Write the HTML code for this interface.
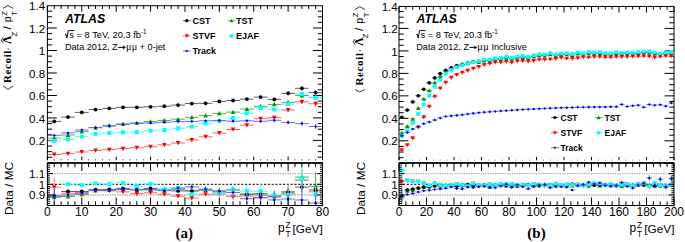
<!DOCTYPE html>
<html><head><meta charset="utf-8"><title>Recoil response</title>
<style>html,body{margin:0;padding:0;background:#fff;}body{width:685px;height:242px;overflow:hidden;font-family:"Liberation Sans",sans-serif;}svg{display:block;}</style>
</head><body>
<svg width="685" height="242" viewBox="0 0 685 242">
<rect width="685" height="242" fill="#fff"/>
<defs>
<clipPath id="cmL"><rect x="47.4" y="5.54" width="275.1" height="154.76"/></clipPath>
<clipPath id="crL"><rect x="47.4" y="163" width="275.1" height="42.5"/></clipPath>
<clipPath id="cmR"><rect x="399" y="5.54" width="275" height="154.76"/></clipPath>
<clipPath id="crR"><rect x="399" y="163" width="275" height="42.5"/></clipPath>
</defs>
<g stroke="#000" stroke-width="1" fill="none">
<path d="M47.4 5.74H322.5V160.3"/>
<path d="M47.4 5.74V160.3"/>
<path d="M47.4 162.9H56.9M47.4 157.28H52.1M47.4 151.66H52.1M47.4 146.04H52.1M47.4 140.42H56.9M47.4 134.8H52.1M47.4 129.18H52.1M47.4 123.56H52.1M47.4 117.94H56.9M47.4 112.32H52.1M47.4 106.7H52.1M47.4 101.08H52.1M47.4 95.46H56.9M47.4 89.84H52.1M47.4 84.22H52.1M47.4 78.6H52.1M47.4 72.98H56.9M47.4 67.36H52.1M47.4 61.74H52.1M47.4 56.12H52.1M47.4 50.5H56.9M47.4 44.88H52.1M47.4 39.26H52.1M47.4 33.64H52.1M47.4 28.02H56.9M47.4 22.4H52.1M47.4 16.78H52.1M47.4 11.16H52.1"/>
<path d="M322.5 162.9H313M322.5 157.28H317.8M322.5 151.66H317.8M322.5 146.04H317.8M322.5 140.42H313M322.5 134.8H317.8M322.5 129.18H317.8M322.5 123.56H317.8M322.5 117.94H313M322.5 112.32H317.8M322.5 106.7H317.8M322.5 101.08H317.8M322.5 95.46H313M322.5 89.84H317.8M322.5 84.22H317.8M322.5 78.6H317.8M322.5 72.98H313M322.5 67.36H317.8M322.5 61.74H317.8M322.5 56.12H317.8M322.5 50.5H313M322.5 44.88H317.8M322.5 39.26H317.8M322.5 33.64H317.8M322.5 28.02H313M322.5 22.4H317.8M322.5 16.78H317.8M322.5 11.16H317.8"/>
<path d="M47.4 5.74V11.74M54.28 5.74V8.94M61.16 5.74V8.94M68.03 5.74V8.94M74.91 5.74V8.94M81.79 5.74V11.74M88.66 5.74V8.94M95.54 5.74V8.94M102.42 5.74V8.94M109.3 5.74V8.94M116.18 5.74V11.74M123.05 5.74V8.94M129.93 5.74V8.94M136.81 5.74V8.94M143.69 5.74V8.94M150.56 5.74V11.74M157.44 5.74V8.94M164.32 5.74V8.94M171.19 5.74V8.94M178.07 5.74V8.94M184.95 5.74V11.74M191.83 5.74V8.94M198.71 5.74V8.94M205.58 5.74V8.94M212.46 5.74V8.94M219.34 5.74V11.74M226.22 5.74V8.94M233.09 5.74V8.94M239.97 5.74V8.94M246.85 5.74V8.94M253.73 5.74V11.74M260.6 5.74V8.94M267.48 5.74V8.94M274.36 5.74V8.94M281.24 5.74V8.94M288.11 5.74V11.74M294.99 5.74V8.94M301.87 5.74V8.94M308.75 5.74V8.94M315.62 5.74V8.94M322.5 5.74V11.74"/>
<path d="M47.4 162.9V156.6M54.28 162.9V159.4M61.16 162.9V159.4M68.03 162.9V159.4M74.91 162.9V159.4M81.79 162.9V156.6M88.66 162.9V159.4M95.54 162.9V159.4M102.42 162.9V159.4M109.3 162.9V159.4M116.18 162.9V156.6M123.05 162.9V159.4M129.93 162.9V159.4M136.81 162.9V159.4M143.69 162.9V159.4M150.56 162.9V156.6M157.44 162.9V159.4M164.32 162.9V159.4M171.19 162.9V159.4M178.07 162.9V159.4M184.95 162.9V156.6M191.83 162.9V159.4M198.71 162.9V159.4M205.58 162.9V159.4M212.46 162.9V159.4M219.34 162.9V156.6M226.22 162.9V159.4M233.09 162.9V159.4M239.97 162.9V159.4M246.85 162.9V159.4M253.73 162.9V156.6M260.6 162.9V159.4M267.48 162.9V159.4M274.36 162.9V159.4M281.24 162.9V159.4M288.11 162.9V156.6M294.99 162.9V159.4M301.87 162.9V159.4M308.75 162.9V159.4M315.62 162.9V159.4M322.5 162.9V156.6"/>
</g>
<g clip-path="url(#cmL)"><path d="M47.4 138.1H61.15M54.28 137.7V138.5M61.16 135H74.91M68.03 134.6V135.4M74.91 131.6H88.66M81.79 131.2V132M88.67 127.7H102.42M95.54 127.29V128.11M102.42 125.4H116.17M109.3 124.98V125.82M116.18 123.8H129.93M123.05 123.36V124.24M129.93 122.9H143.69M136.81 122.43V123.37M143.69 121.6H157.44M150.56 121.09V122.11M157.44 120.4H171.19M164.32 119.84V120.96M171.2 119.2H184.95M178.07 118.57V119.83M184.95 117.3H198.71M191.83 116.58V118.02M198.71 115.6H212.46M205.58 114.77V116.43M212.46 113.4H226.22M219.34 112.45V114.35M226.22 112.1H239.97M233.09 111V113.2M239.97 109H253.73M246.85 107.72V110.28M253.73 106.4H267.48M260.6 104.92V107.88M267.48 104.4H281.24M274.36 102.69V106.11M281.24 102.4H294.99M288.11 100.42V104.38M294.99 95.5H308.75M301.87 93.23V97.77M308.75 97.3H322.5M315.62 94.7V99.9" stroke="#4db84d" stroke-width="1" fill="none"/><path d="M54.28 135.8L56.58 140.06L51.98 140.06Z" fill="#009a00"/><path d="M68.03 132.7L70.33 136.96L65.73 136.96Z" fill="#009a00"/><path d="M81.79 129.3L84.09 133.56L79.49 133.56Z" fill="#009a00"/><path d="M95.54 125.4L97.84 129.66L93.24 129.66Z" fill="#009a00"/><path d="M109.3 123.1L111.6 127.36L107 127.36Z" fill="#009a00"/><path d="M123.05 121.5L125.35 125.75L120.75 125.75Z" fill="#009a00"/><path d="M136.81 120.6L139.11 124.86L134.51 124.86Z" fill="#009a00"/><path d="M150.56 119.3L152.86 123.55L148.26 123.55Z" fill="#009a00"/><path d="M164.32 118.1L166.62 122.36L162.02 122.36Z" fill="#009a00"/><path d="M178.07 116.9L180.37 121.16L175.77 121.16Z" fill="#009a00"/><path d="M191.83 115L194.13 119.25L189.53 119.25Z" fill="#009a00"/><path d="M205.58 113.3L207.88 117.55L203.28 117.55Z" fill="#009a00"/><path d="M219.34 111.1L221.64 115.36L217.04 115.36Z" fill="#009a00"/><path d="M233.09 109.8L235.39 114.05L230.79 114.05Z" fill="#009a00"/><path d="M246.85 106.7L249.15 110.95L244.55 110.95Z" fill="#009a00"/><path d="M260.6 104.1L262.9 108.36L258.3 108.36Z" fill="#009a00"/><path d="M274.36 102.1L276.66 106.36L272.06 106.36Z" fill="#009a00"/><path d="M288.11 100.1L290.41 104.36L285.81 104.36Z" fill="#009a00"/><path d="M301.87 93.2L304.17 97.45L299.57 97.45Z" fill="#009a00"/><path d="M315.62 95L317.92 99.25L313.32 99.25Z" fill="#009a00"/></g>
<g clip-path="url(#cmL)"><path d="M47.4 154.5H61.15M54.28 154.1V154.9M61.16 153.6H74.91M68.03 153.2V154M74.91 152H88.66M81.79 151.6V152.4M88.67 150.5H102.42M95.54 150.09V150.91M102.42 149.6H116.17M109.3 149.18V150.02M116.18 148.6H129.93M123.05 148.16V149.04M129.93 147.7H143.69M136.81 147.23V148.17M143.69 146.7H157.44M150.56 146.19V147.21M157.44 144.9H171.19M164.32 144.34V145.46M171.2 143H184.95M178.07 142.37V143.63M184.95 139.9H198.71M191.83 139.18V140.62M198.71 136.8H212.46M205.58 135.97V137.63M212.46 133H226.22M219.34 132.05V133.95M226.22 129.5H239.97M233.09 128.4V130.6M239.97 125.1H253.73M246.85 123.82V126.38M253.73 118.6H267.48M260.6 117.12V120.08M267.48 117.6H281.24M274.36 115.89V119.31M281.24 110H294.99M288.11 108.02V111.98M294.99 101.9H308.75M301.87 99.63V104.17M308.75 103.7H322.5M315.62 101.1V106.3" stroke="#ff6464" stroke-width="1" fill="none"/><path d="M54.28 156.8L56.58 152.54L51.98 152.54Z" fill="#ff0000"/><path d="M68.03 155.9L70.33 151.64L65.73 151.64Z" fill="#ff0000"/><path d="M81.79 154.3L84.09 150.04L79.49 150.04Z" fill="#ff0000"/><path d="M95.54 152.8L97.84 148.54L93.24 148.54Z" fill="#ff0000"/><path d="M109.3 151.9L111.6 147.64L107 147.64Z" fill="#ff0000"/><path d="M123.05 150.9L125.35 146.64L120.75 146.64Z" fill="#ff0000"/><path d="M136.81 150L139.11 145.74L134.51 145.74Z" fill="#ff0000"/><path d="M150.56 149L152.86 144.74L148.26 144.74Z" fill="#ff0000"/><path d="M164.32 147.2L166.62 142.94L162.02 142.94Z" fill="#ff0000"/><path d="M178.07 145.3L180.37 141.04L175.77 141.04Z" fill="#ff0000"/><path d="M191.83 142.2L194.13 137.94L189.53 137.94Z" fill="#ff0000"/><path d="M205.58 139.1L207.88 134.84L203.28 134.84Z" fill="#ff0000"/><path d="M219.34 135.3L221.64 131.04L217.04 131.04Z" fill="#ff0000"/><path d="M233.09 131.8L235.39 127.55L230.79 127.55Z" fill="#ff0000"/><path d="M246.85 127.4L249.15 123.14L244.55 123.14Z" fill="#ff0000"/><path d="M260.6 120.9L262.9 116.64L258.3 116.64Z" fill="#ff0000"/><path d="M274.36 119.9L276.66 115.64L272.06 115.64Z" fill="#ff0000"/><path d="M288.11 112.3L290.41 108.05L285.81 108.05Z" fill="#ff0000"/><path d="M301.87 104.2L304.17 99.95L299.57 99.95Z" fill="#ff0000"/><path d="M315.62 106L317.92 101.75L313.32 101.75Z" fill="#ff0000"/></g>
<g clip-path="url(#cmL)"><path d="M47.4 121.4H61.15M54.28 121V121.8M61.16 117.1H74.91M68.03 116.7V117.5M74.91 112.4H88.66M81.79 112V112.8M88.67 109.6H102.42M95.54 109.19V110.01M102.42 108.4H116.17M109.3 107.98V108.82M116.18 107.4H129.93M123.05 106.96V107.84M129.93 107.3H143.69M136.81 106.83V107.77M143.69 106.8H157.44M150.56 106.29V107.31M157.44 106.2H171.19M164.32 105.64V106.76M171.2 105.1H184.95M178.07 104.47V105.73M184.95 103.6H198.71M191.83 102.88V104.32M198.71 103.3H212.46M205.58 102.47V104.13M212.46 101.4H226.22M219.34 100.45V102.35M226.22 100.5H239.97M233.09 99.4V101.6M239.97 99.1H253.73M246.85 97.82V100.38M253.73 97.1H267.48M260.6 95.62V98.58M267.48 99.4H281.24M274.36 97.69V101.11M281.24 93.3H294.99M288.11 91.32V95.28M294.99 88.3H308.75M301.87 86.03V90.57M308.75 92.6H322.5M315.62 90V95.2" stroke="#606060" stroke-width="1" fill="none"/><circle cx="54.28" cy="121.4" r="1.9" fill="#000000"/><circle cx="68.03" cy="117.1" r="1.9" fill="#000000"/><circle cx="81.79" cy="112.4" r="1.9" fill="#000000"/><circle cx="95.54" cy="109.6" r="1.9" fill="#000000"/><circle cx="109.3" cy="108.4" r="1.9" fill="#000000"/><circle cx="123.05" cy="107.4" r="1.9" fill="#000000"/><circle cx="136.81" cy="107.3" r="1.9" fill="#000000"/><circle cx="150.56" cy="106.8" r="1.9" fill="#000000"/><circle cx="164.32" cy="106.2" r="1.9" fill="#000000"/><circle cx="178.07" cy="105.1" r="1.9" fill="#000000"/><circle cx="191.83" cy="103.6" r="1.9" fill="#000000"/><circle cx="205.58" cy="103.3" r="1.9" fill="#000000"/><circle cx="219.34" cy="101.4" r="1.9" fill="#000000"/><circle cx="233.09" cy="100.5" r="1.9" fill="#000000"/><circle cx="246.85" cy="99.1" r="1.9" fill="#000000"/><circle cx="260.6" cy="97.1" r="1.9" fill="#000000"/><circle cx="274.36" cy="99.4" r="1.9" fill="#000000"/><circle cx="288.11" cy="93.3" r="1.9" fill="#000000"/><circle cx="301.87" cy="88.3" r="1.9" fill="#000000"/><circle cx="315.62" cy="92.6" r="1.9" fill="#000000"/></g>
<g clip-path="url(#cmL)"><path d="M47.4 141H61.15M54.28 140.6V141.4M61.16 139.5H74.91M68.03 139.1V139.9M74.91 136.6H88.66M81.79 136.2V137M88.67 133.9H102.42M95.54 133.49V134.31M102.42 133.1H116.17M109.3 132.68V133.52M116.18 132.3H129.93M123.05 131.86V132.74M129.93 132.1H143.69M136.81 131.63V132.57M143.69 130.8H157.44M150.56 130.29V131.31M157.44 130H171.19M164.32 129.44V130.56M171.2 128.4H184.95M178.07 127.77V129.03M184.95 126.6H198.71M191.83 125.88V127.32M198.71 123.5H212.46M205.58 122.67V124.33M212.46 121H226.22M219.34 120.05V121.95M226.22 118H239.97M233.09 116.9V119.1M239.97 113.3H253.73M246.85 112.02V114.58M253.73 107.9H267.48M260.6 106.42V109.38M267.48 109.6H281.24M274.36 107.89V111.31M281.24 104.1H294.99M288.11 102.12V106.08M294.99 94H308.75M301.87 91.73V96.27M308.75 97.9H322.5M315.62 95.3V100.5" stroke="#50ffff" stroke-width="1" fill="none"/><rect x="52.28" y="139" width="4" height="4" fill="#00ffff"/><rect x="66.03" y="137.5" width="4" height="4" fill="#00ffff"/><rect x="79.79" y="134.6" width="4" height="4" fill="#00ffff"/><rect x="93.54" y="131.9" width="4" height="4" fill="#00ffff"/><rect x="107.3" y="131.1" width="4" height="4" fill="#00ffff"/><rect x="121.05" y="130.3" width="4" height="4" fill="#00ffff"/><rect x="134.81" y="130.1" width="4" height="4" fill="#00ffff"/><rect x="148.56" y="128.8" width="4" height="4" fill="#00ffff"/><rect x="162.32" y="128" width="4" height="4" fill="#00ffff"/><rect x="176.07" y="126.4" width="4" height="4" fill="#00ffff"/><rect x="189.83" y="124.6" width="4" height="4" fill="#00ffff"/><rect x="203.58" y="121.5" width="4" height="4" fill="#00ffff"/><rect x="217.34" y="119" width="4" height="4" fill="#00ffff"/><rect x="231.09" y="116" width="4" height="4" fill="#00ffff"/><rect x="244.85" y="111.3" width="4" height="4" fill="#00ffff"/><rect x="258.6" y="105.9" width="4" height="4" fill="#00ffff"/><rect x="272.36" y="107.6" width="4" height="4" fill="#00ffff"/><rect x="286.11" y="102.1" width="4" height="4" fill="#00ffff"/><rect x="299.87" y="92" width="4" height="4" fill="#00ffff"/><rect x="313.62" y="95.9" width="4" height="4" fill="#00ffff"/></g>
<g clip-path="url(#cmL)"><path d="M47.4 135.4H61.15M54.28 135V135.8M61.16 132.9H74.91M68.03 132.5V133.3M74.91 130H88.66M81.79 129.6V130.4M88.67 127.6H102.42M95.54 127.19V128.01M102.42 126.1H116.17M109.3 125.68V126.52M116.18 124.5H129.93M123.05 124.06V124.94M129.93 123.5H143.69M136.81 123.03V123.97M143.69 122.9H157.44M150.56 122.39V123.41M157.44 122.3H171.19M164.32 121.74V122.86M171.2 121.6H184.95M178.07 120.97V122.23M184.95 121.4H198.71M191.83 120.68V122.12M198.71 120.8H212.46M205.58 119.97V121.63M212.46 120.5H226.22M219.34 119.55V121.45M226.22 121.2H239.97M233.09 120.1V122.3M239.97 120.8H253.73M246.85 119.52V122.08M253.73 121.3H267.48M260.6 119.82V122.78M267.48 120.3H281.24M274.36 118.59V122.01M281.24 122.4H294.99M288.11 120.42V124.38M294.99 123.6H308.75M301.87 121.33V125.87M308.75 126.5H322.5M315.62 123.9V129.1" stroke="#6c6cff" stroke-width="1" fill="none"/><path d="M54.28 133.8L55.88 135.4L54.28 137L52.68 135.4Z" fill="#0000ff"/><path d="M68.03 131.3L69.63 132.9L68.03 134.5L66.43 132.9Z" fill="#0000ff"/><path d="M81.79 128.4L83.39 130L81.79 131.6L80.19 130Z" fill="#0000ff"/><path d="M95.54 126L97.14 127.6L95.54 129.2L93.94 127.6Z" fill="#0000ff"/><path d="M109.3 124.5L110.9 126.1L109.3 127.7L107.7 126.1Z" fill="#0000ff"/><path d="M123.05 122.9L124.65 124.5L123.05 126.1L121.45 124.5Z" fill="#0000ff"/><path d="M136.81 121.9L138.41 123.5L136.81 125.1L135.21 123.5Z" fill="#0000ff"/><path d="M150.56 121.3L152.16 122.9L150.56 124.5L148.96 122.9Z" fill="#0000ff"/><path d="M164.32 120.7L165.92 122.3L164.32 123.9L162.72 122.3Z" fill="#0000ff"/><path d="M178.07 120L179.67 121.6L178.07 123.2L176.47 121.6Z" fill="#0000ff"/><path d="M191.83 119.8L193.43 121.4L191.83 123L190.23 121.4Z" fill="#0000ff"/><path d="M205.58 119.2L207.18 120.8L205.58 122.4L203.98 120.8Z" fill="#0000ff"/><path d="M219.34 118.9L220.94 120.5L219.34 122.1L217.74 120.5Z" fill="#0000ff"/><path d="M233.09 119.6L234.69 121.2L233.09 122.8L231.49 121.2Z" fill="#0000ff"/><path d="M246.85 119.2L248.45 120.8L246.85 122.4L245.25 120.8Z" fill="#0000ff"/><path d="M260.6 119.7L262.2 121.3L260.6 122.9L259 121.3Z" fill="#0000ff"/><path d="M274.36 118.7L275.96 120.3L274.36 121.9L272.76 120.3Z" fill="#0000ff"/><path d="M288.11 120.8L289.71 122.4L288.11 124L286.51 122.4Z" fill="#0000ff"/><path d="M301.87 122L303.47 123.6L301.87 125.2L300.27 123.6Z" fill="#0000ff"/><path d="M315.62 124.9L317.22 126.5L315.62 128.1L314.02 126.5Z" fill="#0000ff"/></g>
<rect x="44.4" y="160.3" width="281.1" height="2.7" fill="#fff"/>
<path d="M47.4 173.65H322.5" stroke="#aaa" stroke-width="1.4" stroke-dasharray="1.3 1.1"/>
<path d="M47.4 194.95H322.5" stroke="#aaa" stroke-width="1.4" stroke-dasharray="1.3 1.1"/>
<path d="M47.4 184.3H322.5" stroke="#000" stroke-width="1" stroke-dasharray="2.2 1.6"/>
<g clip-path="url(#crL)"><path d="M47.4 197.3H61.15M54.28 188.3V206.3M61.16 196.5H74.91M68.03 194.5V198.5M74.91 194.4H88.66M81.79 192.9V195.9M88.67 190.5H102.42M95.54 189.5V191.5M102.42 190H116.17M109.3 189V191M116.18 189.5H129.93M123.05 188.5V190.5M129.93 190H143.69M136.81 189V191M143.69 190H157.44M150.56 189V191M157.44 190.5H171.19M164.32 189V192M171.2 189.4H184.95M178.07 187.9V190.9M184.95 190.6H198.71M191.83 188.6V192.6M198.71 190H212.46M205.58 188V192M212.46 191H226.22M219.34 188.5V193.5M226.22 189.4H239.97M233.09 186.4V192.4M239.97 194.3H253.73M246.85 191.3V197.3M253.73 195H267.48M260.6 191.5V198.5M267.48 196.2H281.24M274.36 190.2V202.2M281.24 194H294.99M288.11 188V200M294.99 177H308.75M301.87 169V185M308.75 186.3H322.5M315.62 172.3V200.3" stroke="#4db84d" stroke-width="1" fill="none"/><path d="M54.28 195L56.58 199.26L51.98 199.26Z" fill="#009a00"/><path d="M68.03 194.2L70.33 198.46L65.73 198.46Z" fill="#009a00"/><path d="M81.79 192.1L84.09 196.36L79.49 196.36Z" fill="#009a00"/><path d="M95.54 188.2L97.84 192.46L93.24 192.46Z" fill="#009a00"/><path d="M109.3 187.7L111.6 191.96L107 191.96Z" fill="#009a00"/><path d="M123.05 187.2L125.35 191.46L120.75 191.46Z" fill="#009a00"/><path d="M136.81 187.7L139.11 191.96L134.51 191.96Z" fill="#009a00"/><path d="M150.56 187.7L152.86 191.96L148.26 191.96Z" fill="#009a00"/><path d="M164.32 188.2L166.62 192.46L162.02 192.46Z" fill="#009a00"/><path d="M178.07 187.1L180.37 191.36L175.77 191.36Z" fill="#009a00"/><path d="M191.83 188.3L194.13 192.56L189.53 192.56Z" fill="#009a00"/><path d="M205.58 187.7L207.88 191.96L203.28 191.96Z" fill="#009a00"/><path d="M219.34 188.7L221.64 192.96L217.04 192.96Z" fill="#009a00"/><path d="M233.09 187.1L235.39 191.36L230.79 191.36Z" fill="#009a00"/><path d="M246.85 192L249.15 196.26L244.55 196.26Z" fill="#009a00"/><path d="M260.6 192.7L262.9 196.96L258.3 196.96Z" fill="#009a00"/><path d="M274.36 193.9L276.66 198.16L272.06 198.16Z" fill="#009a00"/><path d="M288.11 191.7L290.41 195.96L285.81 195.96Z" fill="#009a00"/><path d="M301.87 174.7L304.17 178.96L299.57 178.96Z" fill="#009a00"/><path d="M315.62 184L317.92 188.26L313.32 188.26Z" fill="#009a00"/></g>
<g clip-path="url(#crL)"><path d="M47.4 187.2H61.15M54.28 178.2V196.2M61.16 193.2H74.91M68.03 191.2V195.2M74.91 193.4H88.66M81.79 191.9V194.9M88.67 190.6H102.42M95.54 189.6V191.6M102.42 190.8H116.17M109.3 189.8V191.8M116.18 191.9H129.93M123.05 190.9V192.9M129.93 193.7H143.69M136.81 192.7V194.7M143.69 192.8H157.44M150.56 191.8V193.8M157.44 194.3H171.19M164.32 192.8V195.8M171.2 196.2H184.95M178.07 194.7V197.7M184.95 198H198.71M191.83 196V200M198.71 194.3H212.46M205.58 192.3V196.3M212.46 194H226.22M219.34 191.5V196.5M226.22 196.6H239.97M233.09 193.6V199.6M239.97 196H253.73M246.85 192.5V199.5M253.73 198H267.48M260.6 194V202M267.48 197H281.24M274.36 193V201M281.24 193H294.99M288.11 184V202M294.99 180.4H308.75M301.87 174.4V186.4M308.75 191.9H322.5M315.62 183.9V199.9" stroke="#ff6464" stroke-width="1" fill="none"/><path d="M54.28 189.5L56.58 185.24L51.98 185.24Z" fill="#ff0000"/><path d="M68.03 195.5L70.33 191.24L65.73 191.24Z" fill="#ff0000"/><path d="M81.79 195.7L84.09 191.44L79.49 191.44Z" fill="#ff0000"/><path d="M95.54 192.9L97.84 188.64L93.24 188.64Z" fill="#ff0000"/><path d="M109.3 193.1L111.6 188.84L107 188.84Z" fill="#ff0000"/><path d="M123.05 194.2L125.35 189.94L120.75 189.94Z" fill="#ff0000"/><path d="M136.81 196L139.11 191.74L134.51 191.74Z" fill="#ff0000"/><path d="M150.56 195.1L152.86 190.84L148.26 190.84Z" fill="#ff0000"/><path d="M164.32 196.6L166.62 192.34L162.02 192.34Z" fill="#ff0000"/><path d="M178.07 198.5L180.37 194.24L175.77 194.24Z" fill="#ff0000"/><path d="M191.83 200.3L194.13 196.04L189.53 196.04Z" fill="#ff0000"/><path d="M205.58 196.6L207.88 192.34L203.28 192.34Z" fill="#ff0000"/><path d="M219.34 196.3L221.64 192.04L217.04 192.04Z" fill="#ff0000"/><path d="M233.09 198.9L235.39 194.64L230.79 194.64Z" fill="#ff0000"/><path d="M246.85 198.3L249.15 194.04L244.55 194.04Z" fill="#ff0000"/><path d="M260.6 200.3L262.9 196.04L258.3 196.04Z" fill="#ff0000"/><path d="M274.36 199.3L276.66 195.04L272.06 195.04Z" fill="#ff0000"/><path d="M288.11 195.3L290.41 191.04L285.81 191.04Z" fill="#ff0000"/><path d="M301.87 182.7L304.17 178.44L299.57 178.44Z" fill="#ff0000"/><path d="M315.62 194.2L317.92 189.94L313.32 189.94Z" fill="#ff0000"/></g>
<g clip-path="url(#crL)"><path d="M47.4 196H61.15M54.28 193V199M61.16 191.5H74.91M68.03 190.5V192.5M74.91 191.5H88.66M81.79 190.5V192.5M88.67 189.6H102.42M95.54 188.6V190.6M102.42 189.4H116.17M109.3 188.4V190.4M116.18 188.4H129.93M123.05 187.4V189.4M129.93 189.5H143.69M136.81 188.5V190.5M143.69 188.4H157.44M150.56 187.4V189.4M157.44 190H171.19M164.32 189V191M171.2 190.9H184.95M178.07 189.4V192.4M184.95 191H198.71M191.83 189.5V192.5M198.71 190H212.46M205.58 188.5V191.5M212.46 192H226.22M219.34 190V194M226.22 190H239.97M233.09 188V192M239.97 194.2H253.73M246.85 191.7V196.7M253.73 193.7H267.48M260.6 190.7V196.7M267.48 196H281.24M274.36 192.5V199.5M281.24 191.9H294.99M288.11 187.9V195.9M294.99 187.1H308.75M301.87 182.1V192.1M308.75 190H322.5M315.62 184V196" stroke="#606060" stroke-width="1" fill="none"/><circle cx="54.28" cy="196" r="1.9" fill="#000000"/><circle cx="68.03" cy="191.5" r="1.9" fill="#000000"/><circle cx="81.79" cy="191.5" r="1.9" fill="#000000"/><circle cx="95.54" cy="189.6" r="1.9" fill="#000000"/><circle cx="109.3" cy="189.4" r="1.9" fill="#000000"/><circle cx="123.05" cy="188.4" r="1.9" fill="#000000"/><circle cx="136.81" cy="189.5" r="1.9" fill="#000000"/><circle cx="150.56" cy="188.4" r="1.9" fill="#000000"/><circle cx="164.32" cy="190" r="1.9" fill="#000000"/><circle cx="178.07" cy="190.9" r="1.9" fill="#000000"/><circle cx="191.83" cy="191" r="1.9" fill="#000000"/><circle cx="205.58" cy="190" r="1.9" fill="#000000"/><circle cx="219.34" cy="192" r="1.9" fill="#000000"/><circle cx="233.09" cy="190" r="1.9" fill="#000000"/><circle cx="246.85" cy="194.2" r="1.9" fill="#000000"/><circle cx="260.6" cy="193.7" r="1.9" fill="#000000"/><circle cx="274.36" cy="196" r="1.9" fill="#000000"/><circle cx="288.11" cy="191.9" r="1.9" fill="#000000"/><circle cx="301.87" cy="187.1" r="1.9" fill="#000000"/><circle cx="315.62" cy="190" r="1.9" fill="#000000"/></g>
<g clip-path="url(#crL)"><path d="M47.4 160H61.15M61.16 184.1H74.91M68.03 183.1V185.1M74.91 185.2H88.66M81.79 184.2V186.2M88.67 183.3H102.42M95.54 182.3V184.3M102.42 184.1H116.17M109.3 183.1V185.1M116.18 182.8H129.93M123.05 181.8V183.8M129.93 185.9H143.69M136.81 184.9V186.9M143.69 184H157.44M150.56 183V185M157.44 188.7H171.19M164.32 187.7V189.7M171.2 188H184.95M178.07 186.5V189.5M184.95 194.3H198.71M191.83 192.3V196.3M198.71 189H212.46M205.58 187V191M212.46 193.1H226.22M219.34 190.6V195.6M226.22 190H239.97M233.09 184V196M239.97 191.2H253.73M246.85 185.2V197.2M253.73 191.2H267.48M260.6 184.2V198.2M267.48 195H281.24M274.36 190V200M281.24 195H294.99M288.11 189V201M294.99 179.2H308.75M301.87 163.2V195.2M308.75 194.7H322.5M315.62 186.7V202.7" stroke="#50ffff" stroke-width="1" fill="none"/><rect x="52.28" y="158" width="4" height="4" fill="#00ffff"/><rect x="66.03" y="182.1" width="4" height="4" fill="#00ffff"/><rect x="79.79" y="183.2" width="4" height="4" fill="#00ffff"/><rect x="93.54" y="181.3" width="4" height="4" fill="#00ffff"/><rect x="107.3" y="182.1" width="4" height="4" fill="#00ffff"/><rect x="121.05" y="180.8" width="4" height="4" fill="#00ffff"/><rect x="134.81" y="183.9" width="4" height="4" fill="#00ffff"/><rect x="148.56" y="182" width="4" height="4" fill="#00ffff"/><rect x="162.32" y="186.7" width="4" height="4" fill="#00ffff"/><rect x="176.07" y="186" width="4" height="4" fill="#00ffff"/><rect x="189.83" y="192.3" width="4" height="4" fill="#00ffff"/><rect x="203.58" y="187" width="4" height="4" fill="#00ffff"/><rect x="217.34" y="191.1" width="4" height="4" fill="#00ffff"/><rect x="231.09" y="188" width="4" height="4" fill="#00ffff"/><rect x="244.85" y="189.2" width="4" height="4" fill="#00ffff"/><rect x="258.6" y="189.2" width="4" height="4" fill="#00ffff"/><rect x="272.36" y="193" width="4" height="4" fill="#00ffff"/><rect x="286.11" y="193" width="4" height="4" fill="#00ffff"/><rect x="299.87" y="177.2" width="4" height="4" fill="#00ffff"/><rect x="313.62" y="192.7" width="4" height="4" fill="#00ffff"/></g>
<g clip-path="url(#crL)"><path d="M47.4 195.9H61.15M54.28 186.9V204.9M61.16 195H74.91M68.03 193V197M74.91 192.7H88.66M81.79 191.2V194.2M88.67 190.6H102.42M95.54 189.6V191.6M102.42 190.3H116.17M109.3 189.3V191.3M116.18 189.6H129.93M123.05 188.6V190.6M129.93 189.4H143.69M136.81 188.4V190.4M143.69 189.6H157.44M150.56 188.6V190.6M157.44 190.6H171.19M164.32 189.1V192.1M171.2 188.1H184.95M178.07 186.6V189.6M184.95 186.9H198.71M191.83 183.9V189.9M198.71 189.3H212.46M205.58 186.3V192.3M212.46 191.2H226.22M219.34 187.2V195.2M226.22 192.5H239.97M233.09 187.5V197.5M239.97 198.7H253.73M246.85 193.7V203.7M253.73 197.4H267.48M260.6 191.4V203.4M267.48 199.9H281.24M274.36 190.9V208.9M281.24 199H294.99M288.11 191V207M294.99 200H308.75M301.87 188V212M308.75 203H322.5M315.62 193V213" stroke="#6c6cff" stroke-width="1" fill="none"/><path d="M54.28 194.3L55.88 195.9L54.28 197.5L52.68 195.9Z" fill="#0000ff"/><path d="M68.03 193.4L69.63 195L68.03 196.6L66.43 195Z" fill="#0000ff"/><path d="M81.79 191.1L83.39 192.7L81.79 194.3L80.19 192.7Z" fill="#0000ff"/><path d="M95.54 189L97.14 190.6L95.54 192.2L93.94 190.6Z" fill="#0000ff"/><path d="M109.3 188.7L110.9 190.3L109.3 191.9L107.7 190.3Z" fill="#0000ff"/><path d="M123.05 188L124.65 189.6L123.05 191.2L121.45 189.6Z" fill="#0000ff"/><path d="M136.81 187.8L138.41 189.4L136.81 191L135.21 189.4Z" fill="#0000ff"/><path d="M150.56 188L152.16 189.6L150.56 191.2L148.96 189.6Z" fill="#0000ff"/><path d="M164.32 189L165.92 190.6L164.32 192.2L162.72 190.6Z" fill="#0000ff"/><path d="M178.07 186.5L179.67 188.1L178.07 189.7L176.47 188.1Z" fill="#0000ff"/><path d="M191.83 185.3L193.43 186.9L191.83 188.5L190.23 186.9Z" fill="#0000ff"/><path d="M205.58 187.7L207.18 189.3L205.58 190.9L203.98 189.3Z" fill="#0000ff"/><path d="M219.34 189.6L220.94 191.2L219.34 192.8L217.74 191.2Z" fill="#0000ff"/><path d="M233.09 190.9L234.69 192.5L233.09 194.1L231.49 192.5Z" fill="#0000ff"/><path d="M246.85 197.1L248.45 198.7L246.85 200.3L245.25 198.7Z" fill="#0000ff"/><path d="M260.6 195.8L262.2 197.4L260.6 199L259 197.4Z" fill="#0000ff"/><path d="M274.36 198.3L275.96 199.9L274.36 201.5L272.76 199.9Z" fill="#0000ff"/><path d="M288.11 197.4L289.71 199L288.11 200.6L286.51 199Z" fill="#0000ff"/><path d="M301.87 198.4L303.47 200L301.87 201.6L300.27 200Z" fill="#0000ff"/><path d="M315.62 201.4L317.22 203L315.62 204.6L314.02 203Z" fill="#0000ff"/></g>
<g stroke="#000" stroke-width="1" fill="none">
<rect x="47.4" y="163" width="275.1" height="42.5" stroke-width="1"/>
<path d="M47.4 163H322.5" stroke-width="1.6"/>
<path d="M47.4 205.6H52.9M47.4 203.47H50M47.4 201.34H50M47.4 199.21H50M47.4 197.08H50M47.4 194.95H52.9M47.4 192.82H50M47.4 190.69H50M47.4 188.56H50M47.4 186.43H50M47.4 184.3H52.9M47.4 182.17H50M47.4 180.04H50M47.4 177.91H50M47.4 175.78H50M47.4 173.65H52.9M47.4 171.52H50M47.4 169.39H50M47.4 167.26H50M47.4 165.13H50M47.4 163H52.9"/>
<path d="M322.5 205.6H317M322.5 203.47H319.9M322.5 201.34H319.9M322.5 199.21H319.9M322.5 197.08H319.9M322.5 194.95H317M322.5 192.82H319.9M322.5 190.69H319.9M322.5 188.56H319.9M322.5 186.43H319.9M322.5 184.3H317M322.5 182.17H319.9M322.5 180.04H319.9M322.5 177.91H319.9M322.5 175.78H319.9M322.5 173.65H317M322.5 171.52H319.9M322.5 169.39H319.9M322.5 167.26H319.9M322.5 165.13H319.9M322.5 163H317"/>
<path d="M47.4 163V171M54.28 163V167.2M61.16 163V167.2M68.03 163V167.2M74.91 163V167.2M81.79 163V171M88.66 163V167.2M95.54 163V167.2M102.42 163V167.2M109.3 163V167.2M116.18 163V171M123.05 163V167.2M129.93 163V167.2M136.81 163V167.2M143.69 163V167.2M150.56 163V171M157.44 163V167.2M164.32 163V167.2M171.19 163V167.2M178.07 163V167.2M184.95 163V171M191.83 163V167.2M198.71 163V167.2M205.58 163V167.2M212.46 163V167.2M219.34 163V171M226.22 163V167.2M233.09 163V167.2M239.97 163V167.2M246.85 163V167.2M253.73 163V171M260.6 163V167.2M267.48 163V167.2M274.36 163V167.2M281.24 163V167.2M288.11 163V171M294.99 163V167.2M301.87 163V167.2M308.75 163V167.2M315.62 163V167.2M322.5 163V171"/>
<path d="M47.4 205.5V197.5M54.28 205.5V201.3M61.16 205.5V201.3M68.03 205.5V201.3M74.91 205.5V201.3M81.79 205.5V197.5M88.66 205.5V201.3M95.54 205.5V201.3M102.42 205.5V201.3M109.3 205.5V201.3M116.18 205.5V197.5M123.05 205.5V201.3M129.93 205.5V201.3M136.81 205.5V201.3M143.69 205.5V201.3M150.56 205.5V197.5M157.44 205.5V201.3M164.32 205.5V201.3M171.19 205.5V201.3M178.07 205.5V201.3M184.95 205.5V197.5M191.83 205.5V201.3M198.71 205.5V201.3M205.58 205.5V201.3M212.46 205.5V201.3M219.34 205.5V197.5M226.22 205.5V201.3M233.09 205.5V201.3M239.97 205.5V201.3M246.85 205.5V201.3M253.73 205.5V197.5M260.6 205.5V201.3M267.48 205.5V201.3M274.36 205.5V201.3M281.24 205.5V201.3M288.11 205.5V197.5M294.99 205.5V201.3M301.87 205.5V201.3M308.75 205.5V201.3M315.62 205.5V201.3M322.5 205.5V197.5"/>
</g>
<g font-family="Liberation Sans, sans-serif" font-size="11.6" fill="#000" text-anchor="end">
<text x="45.2" y="10.14">1.4</text>
<text x="45.2" y="32.62">1.2</text>
<text x="45.2" y="55.1">1</text>
<text x="45.2" y="77.58">0.8</text>
<text x="45.2" y="100.06">0.6</text>
<text x="45.2" y="122.54">0.4</text>
<text x="45.2" y="145.02">0.2</text>
<text x="45.2" y="178.05">1.1</text>
<text x="45.2" y="188.7">1</text>
<text x="45.2" y="199.35">0.9</text>
</g>
<g font-family="Liberation Sans, sans-serif" font-size="12" fill="#000" text-anchor="middle">
<text x="47.4" y="216">0</text>
<text x="81.79" y="216">10</text>
<text x="116.18" y="216">20</text>
<text x="150.56" y="216">30</text>
<text x="184.95" y="216">40</text>
<text x="219.34" y="216">50</text>
<text x="253.73" y="216">60</text>
<text x="288.11" y="216">70</text>
<text x="322.5" y="216">80</text>
</g>
<g font-family="Liberation Sans, sans-serif" fill="#000">
<text font-size="11.8" text-anchor="end" x="322.7" y="232.6">[GeV]</text>
<text font-size="12" x="278.1" y="231.9">p</text>
<text font-size="8.2" x="285.5" y="228.0">Z</text>
<text font-size="8.2" x="285.5" y="236.8">T</text>
</g>
<text font-family="Liberation Serif, serif" font-weight="bold" font-size="15" x="175.5" y="238">(a)</text>
<g fill="#000" font-family="Liberation Sans, sans-serif"><path d="M3.1 85.9L8 89.4L13.1 85.9" stroke="#222" stroke-width="0.9" fill="none"/><text font-size="11" font-family="Liberation Serif, serif" font-weight="bold" letter-spacing="0.62" transform="translate(11.2 83) rotate(-90)">Recoil</text><circle cx="8.2" cy="48.8" r="0.65"/><text font-size="11.5" font-family="Liberation Serif, serif" font-weight="bold" transform="translate(11 44) rotate(-90)">Λ</text><path d="M3.4 42.8L1.2 40L3.4 37.2" stroke="#222" stroke-width="0.9" fill="none"/><text font-size="7.5"  transform="translate(16.6 36.6) rotate(-90)">Z</text><text font-size="11.5"  transform="translate(11.3 29.4) rotate(-90)">/</text><text font-size="10.5"  transform="translate(10.9 22.3) rotate(-90)">p</text><text font-size="7.5"  transform="translate(6.5 15.8) rotate(-90)">Z</text><text font-size="7.5"  transform="translate(17.4 15.8) rotate(-90)">T</text><path d="M3 8.4L7.9 5.5L13.3 8.4" stroke="#222" stroke-width="0.9" fill="none"/></g>
<text font-family="Liberation Sans, sans-serif" font-size="11.8" fill="#000" transform="translate(13.2 215.1) rotate(-90)">Data / MC</text>
<text font-family="Liberation Sans, sans-serif" font-size="12.3" font-weight="bold" font-style="italic" x="65.1" y="22.5">ATLAS</text>
<path d="M64.9 34.9L65.9 34.2L66.9 38.1L68.2 30.6H74.3" stroke="#000" stroke-width="0.95" fill="none" stroke-linejoin="round"/>
<text font-family="Liberation Sans, sans-serif" font-size="9.3" x="69.3" y="37.8">s = 8 TeV, 20.3 fb<tspan font-size="6.3" dy="-3.6">-1</tspan></text>
<text font-family="Liberation Sans, sans-serif" font-size="9.15" x="64.95" y="50">Data 2012, Z</text>
<path d="M118.2 47.4H124.6" stroke="#000" stroke-width="1.0"/>
<path d="M123 45.6L125.9 47.4L123 49.2Z" fill="#000"/>
<text font-family="Liberation Serif, serif" font-size="10.3" x="126" y="50" letter-spacing="0.35">μμ</text>
<text font-family="Liberation Sans, sans-serif" font-size="9.15" x="139.7" y="50">+ 0-jet</text>
<path d="M183 20.7H190.6" stroke="#606060" stroke-width="1"/>
<circle cx="186.8" cy="20.7" r="1.61" fill="#000000"/>
<text font-family="Liberation Sans, sans-serif" font-size="9" font-weight="bold" x="192.4" y="23.94">CST</text>
<path d="M227.7 20.7H235.3" stroke="#4db84d" stroke-width="1"/>
<path d="M231.5 18.75L233.46 22.36L229.54 22.36Z" fill="#009a00"/>
<text font-family="Liberation Sans, sans-serif" font-size="9" font-weight="bold" x="236.1" y="23.94">TST</text>
<path d="M183 36H190.6" stroke="#ff6464" stroke-width="1"/>
<path d="M186.8 37.95L188.76 34.34L184.84 34.34Z" fill="#ff0000"/>
<text font-family="Liberation Sans, sans-serif" font-size="9" font-weight="bold" x="192.4" y="39.24">STVF</text>
<path d="M227.7 36H235.3" stroke="#50ffff" stroke-width="1"/>
<rect x="229.8" y="34.3" width="3.4" height="3.4" fill="#00ffff"/>
<text font-family="Liberation Sans, sans-serif" font-size="9" font-weight="bold" x="236.1" y="39.24">EJAF</text>
<path d="M183 51H190.6" stroke="#6c6cff" stroke-width="1"/>
<path d="M186.8 49.64L188.16 51L186.8 52.36L185.44 51Z" fill="#0000ff"/>
<text font-family="Liberation Sans, sans-serif" font-size="9" font-weight="bold" x="192.4" y="54.24">Track</text>
<g stroke="#000" stroke-width="1" fill="none">
<path d="M399 6.44H674V160.3"/>
<path d="M399 6.44V160.3"/>
<path d="M399 163.3H408.5M399 157.68H403.7M399 152.06H403.7M399 146.44H403.7M399 140.82H408.5M399 135.2H403.7M399 129.58H403.7M399 123.96H403.7M399 118.34H408.5M399 112.72H403.7M399 107.1H403.7M399 101.48H403.7M399 95.86H408.5M399 90.24H403.7M399 84.62H403.7M399 79H403.7M399 73.38H408.5M399 67.76H403.7M399 62.14H403.7M399 56.52H403.7M399 50.9H408.5M399 45.28H403.7M399 39.66H403.7M399 34.04H403.7M399 28.42H408.5M399 22.8H403.7M399 17.18H403.7M399 11.56H403.7"/>
<path d="M674 163.3H664.5M674 157.68H669.3M674 152.06H669.3M674 146.44H669.3M674 140.82H664.5M674 135.2H669.3M674 129.58H669.3M674 123.96H669.3M674 118.34H664.5M674 112.72H669.3M674 107.1H669.3M674 101.48H669.3M674 95.86H664.5M674 90.24H669.3M674 84.62H669.3M674 79H669.3M674 73.38H664.5M674 67.76H669.3M674 62.14H669.3M674 56.52H669.3M674 50.9H664.5M674 45.28H669.3M674 39.66H669.3M674 34.04H669.3M674 28.42H664.5M674 22.8H669.3M674 17.18H669.3M674 11.56H669.3"/>
<path d="M399 6.44V12.44M405.88 6.44V9.64M412.75 6.44V9.64M419.62 6.44V9.64M426.5 6.44V12.44M433.38 6.44V9.64M440.25 6.44V9.64M447.12 6.44V9.64M454 6.44V12.44M460.88 6.44V9.64M467.75 6.44V9.64M474.62 6.44V9.64M481.5 6.44V12.44M488.38 6.44V9.64M495.25 6.44V9.64M502.12 6.44V9.64M509 6.44V12.44M515.88 6.44V9.64M522.75 6.44V9.64M529.62 6.44V9.64M536.5 6.44V12.44M543.38 6.44V9.64M550.25 6.44V9.64M557.12 6.44V9.64M564 6.44V12.44M570.88 6.44V9.64M577.75 6.44V9.64M584.62 6.44V9.64M591.5 6.44V12.44M598.38 6.44V9.64M605.25 6.44V9.64M612.12 6.44V9.64M619 6.44V12.44M625.88 6.44V9.64M632.75 6.44V9.64M639.62 6.44V9.64M646.5 6.44V12.44M653.38 6.44V9.64M660.25 6.44V9.64M667.12 6.44V9.64M674 6.44V12.44"/>
<path d="M399 163.3V157M405.88 163.3V159.8M412.75 163.3V159.8M419.62 163.3V159.8M426.5 163.3V157M433.38 163.3V159.8M440.25 163.3V159.8M447.12 163.3V159.8M454 163.3V157M460.88 163.3V159.8M467.75 163.3V159.8M474.62 163.3V159.8M481.5 163.3V157M488.38 163.3V159.8M495.25 163.3V159.8M502.12 163.3V159.8M509 163.3V157M515.88 163.3V159.8M522.75 163.3V159.8M529.62 163.3V159.8M536.5 163.3V157M543.38 163.3V159.8M550.25 163.3V159.8M557.12 163.3V159.8M564 163.3V157M570.88 163.3V159.8M577.75 163.3V159.8M584.62 163.3V159.8M591.5 163.3V157M598.38 163.3V159.8M605.25 163.3V159.8M612.12 163.3V159.8M619 163.3V157M625.88 163.3V159.8M632.75 163.3V159.8M639.62 163.3V159.8M646.5 163.3V157M653.38 163.3V159.8M660.25 163.3V159.8M667.12 163.3V159.8M674 163.3V157"/>
</g>
<g clip-path="url(#cmR)"><path d="M399 132.9H404.5M404.5 126.3H410M410 118.9H415.5M415.5 108.1H421M421 99H426.5M426.5 90.5H432M432 82.6H437.5M437.5 76.1H443M443 71.4H448.5M448.5 68.7H454M454 66.5H459.5M459.5 64.9H465M465 63.4H470.5M470.5 62.2H476M476 62.1H481.5M481.5 60.57H487M487 60.68H492.5M492.5 59.46H498M498 59.12H503.5M503.5 57.8H509M509 58.97H514.5M514.5 57.8H520M520 57.11H525.5M525.5 57.94H531M531 56.52H536.5M536.5 55.44H542M542 55.58H547.5M547.5 54.28H553M553 55.65H558.5M558.5 54.66H564M564 54.35H569.5M569.5 55.11H575M575 53.61H580.5M580.5 54.55H586M586 53.11H591.5M591.5 53.67H597M597 53.25H602.5M602.5 54.44H608M608 54.48H613.5M613.5 53.41H619M619 53.98H624.5M624.5 53.45H630M630 53.81H635.5M635.5 53.13H641M641 52.64H646.5M646.5 52.58H652M652 53.65H657.5M657.5 54.57H663M663 53.56H668.5M668.5 53.15H674" stroke="#4db84d" stroke-width="1" fill="none"/><path d="M401.75 130.72L403.94 134.76L399.56 134.76Z" fill="#009a00"/><path d="M407.25 124.11L409.44 128.16L405.06 128.16Z" fill="#009a00"/><path d="M412.75 116.72L414.94 120.76L410.56 120.76Z" fill="#009a00"/><path d="M418.25 105.91L420.44 109.96L416.06 109.96Z" fill="#009a00"/><path d="M423.75 96.81L425.94 100.86L421.56 100.86Z" fill="#009a00"/><path d="M429.25 88.31L431.44 92.36L427.06 92.36Z" fill="#009a00"/><path d="M434.75 80.41L436.94 84.46L432.56 84.46Z" fill="#009a00"/><path d="M440.25 73.91L442.44 77.96L438.06 77.96Z" fill="#009a00"/><path d="M445.75 69.22L447.94 73.26L443.56 73.26Z" fill="#009a00"/><path d="M451.25 66.52L453.44 70.56L449.06 70.56Z" fill="#009a00"/><path d="M456.75 64.31L458.94 68.36L454.56 68.36Z" fill="#009a00"/><path d="M462.25 62.72L464.44 66.76L460.06 66.76Z" fill="#009a00"/><path d="M467.75 61.21L469.94 65.26L465.56 65.26Z" fill="#009a00"/><path d="M473.25 60.02L475.44 64.06L471.06 64.06Z" fill="#009a00"/><path d="M478.75 59.91L480.94 63.96L476.56 63.96Z" fill="#009a00"/><path d="M484.25 58.39L486.44 62.43L482.06 62.43Z" fill="#009a00"/><path d="M489.75 58.49L491.94 62.53L487.56 62.53Z" fill="#009a00"/><path d="M495.25 57.28L497.44 61.32L493.06 61.32Z" fill="#009a00"/><path d="M500.75 56.93L502.94 60.97L498.56 60.97Z" fill="#009a00"/><path d="M506.25 55.61L508.44 59.65L504.06 59.65Z" fill="#009a00"/><path d="M511.75 56.78L513.93 60.82L509.56 60.82Z" fill="#009a00"/><path d="M517.25 55.61L519.43 59.65L515.07 59.65Z" fill="#009a00"/><path d="M522.75 54.92L524.93 58.96L520.57 58.96Z" fill="#009a00"/><path d="M528.25 55.75L530.43 59.79L526.07 59.79Z" fill="#009a00"/><path d="M533.75 54.33L535.93 58.38L531.57 58.38Z" fill="#009a00"/><path d="M539.25 53.25L541.43 57.3L537.07 57.3Z" fill="#009a00"/><path d="M544.75 53.4L546.93 57.44L542.57 57.44Z" fill="#009a00"/><path d="M550.25 52.1L552.43 56.14L548.07 56.14Z" fill="#009a00"/><path d="M555.75 53.46L557.93 57.51L553.57 57.51Z" fill="#009a00"/><path d="M561.25 52.47L563.43 56.51L559.07 56.51Z" fill="#009a00"/><path d="M566.75 52.16L568.93 56.21L564.57 56.21Z" fill="#009a00"/><path d="M572.25 52.93L574.43 56.97L570.07 56.97Z" fill="#009a00"/><path d="M577.75 51.42L579.93 55.46L575.57 55.46Z" fill="#009a00"/><path d="M583.25 52.37L585.43 56.41L581.07 56.41Z" fill="#009a00"/><path d="M588.75 50.92L590.93 54.97L586.57 54.97Z" fill="#009a00"/><path d="M594.25 51.48L596.43 55.52L592.07 55.52Z" fill="#009a00"/><path d="M599.75 51.07L601.93 55.11L597.57 55.11Z" fill="#009a00"/><path d="M605.25 52.25L607.43 56.3L603.07 56.3Z" fill="#009a00"/><path d="M610.75 52.29L612.93 56.34L608.57 56.34Z" fill="#009a00"/><path d="M616.25 51.23L618.43 55.27L614.07 55.27Z" fill="#009a00"/><path d="M621.75 51.8L623.93 55.84L619.57 55.84Z" fill="#009a00"/><path d="M627.25 51.27L629.43 55.31L625.07 55.31Z" fill="#009a00"/><path d="M632.75 51.63L634.93 55.67L630.57 55.67Z" fill="#009a00"/><path d="M638.25 50.95L640.43 54.99L636.07 54.99Z" fill="#009a00"/><path d="M643.75 50.45L645.93 54.5L641.57 54.5Z" fill="#009a00"/><path d="M649.25 50.39L651.43 54.43L647.07 54.43Z" fill="#009a00"/><path d="M654.75 51.47L656.93 55.51L652.57 55.51Z" fill="#009a00"/><path d="M660.25 52.38L662.43 56.42L658.07 56.42Z" fill="#009a00"/><path d="M665.75 51.38L667.93 55.42L663.57 55.42Z" fill="#009a00"/><path d="M671.25 50.96L673.43 55L669.07 55Z" fill="#009a00"/></g>
<g clip-path="url(#cmR)"><path d="M399 150.1H404.5M404.5 145.1H410M410 138.2H415.5M415.5 127.4H421M421 117.2H426.5M426.5 106.5H432M432 96.6H437.5M437.5 88.3H443M443 82.5H448.5M448.5 77.6H454M454 74.8H459.5M459.5 72.6H465M465 70.7H470.5M470.5 68.6H476M476 66.9H481.5M481.5 64.88H487M487 63.56H492.5M492.5 62.37H498M498 62.35H503.5M503.5 61.51H509M509 62.45H514.5M514.5 61.16H520M520 60.95H525.5M525.5 61.24H531M531 60.89H536.5M536.5 59.65H542M542 59.54H547.5M547.5 59.38H553M553 58.61H558.5M558.5 57.54H564M564 58.56H569.5M569.5 58.47H575M575 58.02H580.5M580.5 57.14H586M586 57.29H591.5M591.5 56.89H597M597 56.82H602.5M602.5 57.41H608M608 57.36H613.5M613.5 56.89H619M619 56.8H624.5M624.5 56.83H630M630 56.45H635.5M635.5 56.38H641M641 56.05H646.5M646.5 56.33H652M652 57.45H657.5M657.5 56.72H663M663 56.08H668.5M668.5 55.98H674" stroke="#ff6464" stroke-width="1" fill="none"/><path d="M401.75 152.28L403.94 148.24L399.56 148.24Z" fill="#ff0000"/><path d="M407.25 147.28L409.44 143.24L405.06 143.24Z" fill="#ff0000"/><path d="M412.75 140.38L414.94 136.34L410.56 136.34Z" fill="#ff0000"/><path d="M418.25 129.59L420.44 125.54L416.06 125.54Z" fill="#ff0000"/><path d="M423.75 119.39L425.94 115.34L421.56 115.34Z" fill="#ff0000"/><path d="M429.25 108.69L431.44 104.64L427.06 104.64Z" fill="#ff0000"/><path d="M434.75 98.78L436.94 94.74L432.56 94.74Z" fill="#ff0000"/><path d="M440.25 90.48L442.44 86.44L438.06 86.44Z" fill="#ff0000"/><path d="M445.75 84.69L447.94 80.64L443.56 80.64Z" fill="#ff0000"/><path d="M451.25 79.78L453.44 75.74L449.06 75.74Z" fill="#ff0000"/><path d="M456.75 76.98L458.94 72.94L454.56 72.94Z" fill="#ff0000"/><path d="M462.25 74.78L464.44 70.74L460.06 70.74Z" fill="#ff0000"/><path d="M467.75 72.89L469.94 68.84L465.56 68.84Z" fill="#ff0000"/><path d="M473.25 70.78L475.44 66.74L471.06 66.74Z" fill="#ff0000"/><path d="M478.75 69.09L480.94 65.04L476.56 65.04Z" fill="#ff0000"/><path d="M484.25 67.06L486.44 63.02L482.06 63.02Z" fill="#ff0000"/><path d="M489.75 65.75L491.94 61.71L487.56 61.71Z" fill="#ff0000"/><path d="M495.25 64.56L497.44 60.52L493.06 60.52Z" fill="#ff0000"/><path d="M500.75 64.53L502.94 60.49L498.56 60.49Z" fill="#ff0000"/><path d="M506.25 63.7L508.44 59.65L504.06 59.65Z" fill="#ff0000"/><path d="M511.75 64.63L513.93 60.59L509.56 60.59Z" fill="#ff0000"/><path d="M517.25 63.34L519.43 59.3L515.07 59.3Z" fill="#ff0000"/><path d="M522.75 63.14L524.93 59.1L520.57 59.1Z" fill="#ff0000"/><path d="M528.25 63.42L530.43 59.38L526.07 59.38Z" fill="#ff0000"/><path d="M533.75 63.07L535.93 59.03L531.57 59.03Z" fill="#ff0000"/><path d="M539.25 61.84L541.43 57.79L537.07 57.79Z" fill="#ff0000"/><path d="M544.75 61.73L546.93 57.68L542.57 57.68Z" fill="#ff0000"/><path d="M550.25 61.57L552.43 57.52L548.07 57.52Z" fill="#ff0000"/><path d="M555.75 60.79L557.93 56.75L553.57 56.75Z" fill="#ff0000"/><path d="M561.25 59.72L563.43 55.68L559.07 55.68Z" fill="#ff0000"/><path d="M566.75 60.75L568.93 56.71L564.57 56.71Z" fill="#ff0000"/><path d="M572.25 60.66L574.43 56.61L570.07 56.61Z" fill="#ff0000"/><path d="M577.75 60.21L579.93 56.16L575.57 56.16Z" fill="#ff0000"/><path d="M583.25 59.33L585.43 55.28L581.07 55.28Z" fill="#ff0000"/><path d="M588.75 59.48L590.93 55.44L586.57 55.44Z" fill="#ff0000"/><path d="M594.25 59.07L596.43 55.03L592.07 55.03Z" fill="#ff0000"/><path d="M599.75 59L601.93 54.96L597.57 54.96Z" fill="#ff0000"/><path d="M605.25 59.59L607.43 55.55L603.07 55.55Z" fill="#ff0000"/><path d="M610.75 59.54L612.93 55.5L608.57 55.5Z" fill="#ff0000"/><path d="M616.25 59.08L618.43 55.03L614.07 55.03Z" fill="#ff0000"/><path d="M621.75 58.98L623.93 54.94L619.57 54.94Z" fill="#ff0000"/><path d="M627.25 59.01L629.43 54.97L625.07 54.97Z" fill="#ff0000"/><path d="M632.75 58.63L634.93 54.59L630.57 54.59Z" fill="#ff0000"/><path d="M638.25 58.57L640.43 54.53L636.07 54.53Z" fill="#ff0000"/><path d="M643.75 58.24L645.93 54.19L641.57 54.19Z" fill="#ff0000"/><path d="M649.25 58.51L651.43 54.47L647.07 54.47Z" fill="#ff0000"/><path d="M654.75 59.63L656.93 55.59L652.57 55.59Z" fill="#ff0000"/><path d="M660.25 58.9L662.43 54.86L658.07 54.86Z" fill="#ff0000"/><path d="M665.75 58.27L667.93 54.22L663.57 54.22Z" fill="#ff0000"/><path d="M671.25 58.17L673.43 54.12L669.07 54.12Z" fill="#ff0000"/></g>
<g clip-path="url(#cmR)"><path d="M399 117.2H404.5M404.5 110.1H410M410 101.9H415.5M415.5 95.7H421M421 89.3H426.5M426.5 82.9H432M432 77.9H437.5M437.5 73.5H443M443 70.2H448.5M448.5 67.9H454M454 65.6H459.5M459.5 64.4H465M465 63H470.5M470.5 61.8H476M476 61.6H481.5M481.5 60.07H487M487 60.18H492.5M492.5 58.96H498M498 58.62H503.5M503.5 57.3H509M509 58.47H514.5M514.5 57.3H520M520 56.61H525.5M525.5 57.44H531M531 56.02H536.5M536.5 54.94H542M542 55.08H547.5M547.5 53.78H553M553 55.15H558.5M558.5 54.16H564M564 53.85H569.5M569.5 54.61H575M575 53.11H580.5M580.5 54.05H586M586 52.61H591.5M591.5 53.17H597M597 52.75H602.5M602.5 53.94H608M608 53.98H613.5M613.5 52.91H619M619 53.48H624.5M624.5 52.95H630M630 53.31H635.5M635.5 52.63H641M641 52.14H646.5M646.5 52.08H652M652 53.15H657.5M657.5 54.07H663M663 53.06H668.5M668.5 52.65H674" stroke="#606060" stroke-width="1" fill="none"/><circle cx="401.75" cy="117.2" r="1.8" fill="#000000"/><circle cx="407.25" cy="110.1" r="1.8" fill="#000000"/><circle cx="412.75" cy="101.9" r="1.8" fill="#000000"/><circle cx="418.25" cy="95.7" r="1.8" fill="#000000"/><circle cx="423.75" cy="89.3" r="1.8" fill="#000000"/><circle cx="429.25" cy="82.9" r="1.8" fill="#000000"/><circle cx="434.75" cy="77.9" r="1.8" fill="#000000"/><circle cx="440.25" cy="73.5" r="1.8" fill="#000000"/><circle cx="445.75" cy="70.2" r="1.8" fill="#000000"/><circle cx="451.25" cy="67.9" r="1.8" fill="#000000"/><circle cx="456.75" cy="65.6" r="1.8" fill="#000000"/><circle cx="462.25" cy="64.4" r="1.8" fill="#000000"/><circle cx="467.75" cy="63" r="1.8" fill="#000000"/><circle cx="473.25" cy="61.8" r="1.8" fill="#000000"/><circle cx="478.75" cy="61.6" r="1.8" fill="#000000"/><circle cx="484.25" cy="60.07" r="1.8" fill="#000000"/><circle cx="489.75" cy="60.18" r="1.8" fill="#000000"/><circle cx="495.25" cy="58.96" r="1.8" fill="#000000"/><circle cx="500.75" cy="58.62" r="1.8" fill="#000000"/><circle cx="506.25" cy="57.3" r="1.8" fill="#000000"/><circle cx="511.75" cy="58.47" r="1.8" fill="#000000"/><circle cx="517.25" cy="57.3" r="1.8" fill="#000000"/><circle cx="522.75" cy="56.61" r="1.8" fill="#000000"/><circle cx="528.25" cy="57.44" r="1.8" fill="#000000"/><circle cx="533.75" cy="56.02" r="1.8" fill="#000000"/><circle cx="539.25" cy="54.94" r="1.8" fill="#000000"/><circle cx="544.75" cy="55.08" r="1.8" fill="#000000"/><circle cx="550.25" cy="53.78" r="1.8" fill="#000000"/><circle cx="555.75" cy="55.15" r="1.8" fill="#000000"/><circle cx="561.25" cy="54.16" r="1.8" fill="#000000"/><circle cx="566.75" cy="53.85" r="1.8" fill="#000000"/><circle cx="572.25" cy="54.61" r="1.8" fill="#000000"/><circle cx="577.75" cy="53.11" r="1.8" fill="#000000"/><circle cx="583.25" cy="54.05" r="1.8" fill="#000000"/><circle cx="588.75" cy="52.61" r="1.8" fill="#000000"/><circle cx="594.25" cy="53.17" r="1.8" fill="#000000"/><circle cx="599.75" cy="52.75" r="1.8" fill="#000000"/><circle cx="605.25" cy="53.94" r="1.8" fill="#000000"/><circle cx="610.75" cy="53.98" r="1.8" fill="#000000"/><circle cx="616.25" cy="52.91" r="1.8" fill="#000000"/><circle cx="621.75" cy="53.48" r="1.8" fill="#000000"/><circle cx="627.25" cy="52.95" r="1.8" fill="#000000"/><circle cx="632.75" cy="53.31" r="1.8" fill="#000000"/><circle cx="638.25" cy="52.63" r="1.8" fill="#000000"/><circle cx="643.75" cy="52.14" r="1.8" fill="#000000"/><circle cx="649.25" cy="52.08" r="1.8" fill="#000000"/><circle cx="654.75" cy="53.15" r="1.8" fill="#000000"/><circle cx="660.25" cy="54.07" r="1.8" fill="#000000"/><circle cx="665.75" cy="53.06" r="1.8" fill="#000000"/><circle cx="671.25" cy="52.65" r="1.8" fill="#000000"/></g>
<g clip-path="url(#cmR)"><path d="M399 136.2H404.5M404.5 130.7H410M410 123H415.5M415.5 113.9H421M421 104.5H426.5M426.5 95.7H432M432 86.8H437.5M437.5 79.8H443M443 73.6H448.5M448.5 70H454M454 67.3H459.5M459.5 65.3H465M465 63.6H470.5M470.5 62.3H476M476 61H481.5M481.5 59.47H487M487 59.58H492.5M492.5 58.36H498M498 58.02H503.5M503.5 56.7H509M509 57.87H514.5M514.5 56.7H520M520 56.01H525.5M525.5 56.84H531M531 55.42H536.5M536.5 54.34H542M542 54.48H547.5M547.5 53.18H553M553 54.55H558.5M558.5 53.56H564M564 53.25H569.5M569.5 54.01H575M575 52.51H580.5M580.5 53.45H586M586 52.01H591.5M591.5 52.57H597M597 52.15H602.5M602.5 53.34H608M608 53.38H613.5M613.5 52.31H619M619 52.88H624.5M624.5 52.35H630M630 52.71H635.5M635.5 52.03H641M641 51.54H646.5M646.5 51.48H652M652 52.55H657.5M657.5 53.47H663M663 52.46H668.5M668.5 52.05H674" stroke="#50ffff" stroke-width="1" fill="none"/><rect x="399.85" y="134.3" width="3.8" height="3.8" fill="#00ffff"/><rect x="405.35" y="128.8" width="3.8" height="3.8" fill="#00ffff"/><rect x="410.85" y="121.1" width="3.8" height="3.8" fill="#00ffff"/><rect x="416.35" y="112" width="3.8" height="3.8" fill="#00ffff"/><rect x="421.85" y="102.6" width="3.8" height="3.8" fill="#00ffff"/><rect x="427.35" y="93.8" width="3.8" height="3.8" fill="#00ffff"/><rect x="432.85" y="84.9" width="3.8" height="3.8" fill="#00ffff"/><rect x="438.35" y="77.9" width="3.8" height="3.8" fill="#00ffff"/><rect x="443.85" y="71.7" width="3.8" height="3.8" fill="#00ffff"/><rect x="449.35" y="68.1" width="3.8" height="3.8" fill="#00ffff"/><rect x="454.85" y="65.4" width="3.8" height="3.8" fill="#00ffff"/><rect x="460.35" y="63.4" width="3.8" height="3.8" fill="#00ffff"/><rect x="465.85" y="61.7" width="3.8" height="3.8" fill="#00ffff"/><rect x="471.35" y="60.4" width="3.8" height="3.8" fill="#00ffff"/><rect x="476.85" y="59.1" width="3.8" height="3.8" fill="#00ffff"/><rect x="482.35" y="57.57" width="3.8" height="3.8" fill="#00ffff"/><rect x="487.85" y="57.68" width="3.8" height="3.8" fill="#00ffff"/><rect x="493.35" y="56.46" width="3.8" height="3.8" fill="#00ffff"/><rect x="498.85" y="56.12" width="3.8" height="3.8" fill="#00ffff"/><rect x="504.35" y="54.8" width="3.8" height="3.8" fill="#00ffff"/><rect x="509.85" y="55.97" width="3.8" height="3.8" fill="#00ffff"/><rect x="515.35" y="54.8" width="3.8" height="3.8" fill="#00ffff"/><rect x="520.85" y="54.11" width="3.8" height="3.8" fill="#00ffff"/><rect x="526.35" y="54.94" width="3.8" height="3.8" fill="#00ffff"/><rect x="531.85" y="53.52" width="3.8" height="3.8" fill="#00ffff"/><rect x="537.35" y="52.44" width="3.8" height="3.8" fill="#00ffff"/><rect x="542.85" y="52.58" width="3.8" height="3.8" fill="#00ffff"/><rect x="548.35" y="51.28" width="3.8" height="3.8" fill="#00ffff"/><rect x="553.85" y="52.65" width="3.8" height="3.8" fill="#00ffff"/><rect x="559.35" y="51.66" width="3.8" height="3.8" fill="#00ffff"/><rect x="564.85" y="51.35" width="3.8" height="3.8" fill="#00ffff"/><rect x="570.35" y="52.11" width="3.8" height="3.8" fill="#00ffff"/><rect x="575.85" y="50.61" width="3.8" height="3.8" fill="#00ffff"/><rect x="581.35" y="51.55" width="3.8" height="3.8" fill="#00ffff"/><rect x="586.85" y="50.11" width="3.8" height="3.8" fill="#00ffff"/><rect x="592.35" y="50.67" width="3.8" height="3.8" fill="#00ffff"/><rect x="597.85" y="50.25" width="3.8" height="3.8" fill="#00ffff"/><rect x="603.35" y="51.44" width="3.8" height="3.8" fill="#00ffff"/><rect x="608.85" y="51.48" width="3.8" height="3.8" fill="#00ffff"/><rect x="614.35" y="50.41" width="3.8" height="3.8" fill="#00ffff"/><rect x="619.85" y="50.98" width="3.8" height="3.8" fill="#00ffff"/><rect x="625.35" y="50.45" width="3.8" height="3.8" fill="#00ffff"/><rect x="630.85" y="50.81" width="3.8" height="3.8" fill="#00ffff"/><rect x="636.35" y="50.13" width="3.8" height="3.8" fill="#00ffff"/><rect x="641.85" y="49.64" width="3.8" height="3.8" fill="#00ffff"/><rect x="647.35" y="49.58" width="3.8" height="3.8" fill="#00ffff"/><rect x="652.85" y="50.65" width="3.8" height="3.8" fill="#00ffff"/><rect x="658.35" y="51.57" width="3.8" height="3.8" fill="#00ffff"/><rect x="663.85" y="50.56" width="3.8" height="3.8" fill="#00ffff"/><rect x="669.35" y="50.15" width="3.8" height="3.8" fill="#00ffff"/></g>
<g clip-path="url(#cmR)"><path d="M399 135.7H404.5M404.5 132.4H410M410 129.1H415.5M415.5 126.6H421M421 123.7H426.5M426.5 122H432M432 120H437.5M437.5 118H443M443 116.4H448.5M448.5 115.88H454M454 115.36H459.5M459.5 114.75H465M465 114.06H470.5M470.5 113.37H476M476 112.67H481.5M481.5 112.2H487M487 111.8H492.5M492.5 111.4H498M498 111.01H503.5M503.5 110.63H509M509 110.26H514.5M514.5 109.89H520M520 109.56H525.5M525.5 109.29H531M531 109.01H536.5M536.5 108.73H542M542 108.47H547.5M547.5 108.2H553M553 107.96H558.5M558.5 107.8H564M564 107.64H569.5M569.5 107.48H575M575 107.34H580.5M580.5 107.23H586M586 107.12H591.5M591.5 107.01H597M597 106.95H602.5M602.5 106.9H608M608 106.84H613.5M613.5 106.74H619M619 104.4H624.5M624.5 106.6H630M630 105.76H635.5M635.5 105.18H641M641 107.2H646.5M646.5 104.5H652M652 105.28H657.5M657.5 104.83H663M663 106.1H668.5M668.5 103.1H674" stroke="#6c6cff" stroke-width="1" fill="none"/><path d="M401.75 134.18L403.27 135.7L401.75 137.22L400.23 135.7Z" fill="#0000ff"/><path d="M407.25 130.88L408.77 132.4L407.25 133.92L405.73 132.4Z" fill="#0000ff"/><path d="M412.75 127.58L414.27 129.1L412.75 130.62L411.23 129.1Z" fill="#0000ff"/><path d="M418.25 125.08L419.77 126.6L418.25 128.12L416.73 126.6Z" fill="#0000ff"/><path d="M423.75 122.18L425.27 123.7L423.75 125.22L422.23 123.7Z" fill="#0000ff"/><path d="M429.25 120.48L430.77 122L429.25 123.52L427.73 122Z" fill="#0000ff"/><path d="M434.75 118.48L436.27 120L434.75 121.52L433.23 120Z" fill="#0000ff"/><path d="M440.25 116.48L441.77 118L440.25 119.52L438.73 118Z" fill="#0000ff"/><path d="M445.75 114.88L447.27 116.4L445.75 117.92L444.23 116.4Z" fill="#0000ff"/><path d="M451.25 114.36L452.77 115.88L451.25 117.4L449.73 115.88Z" fill="#0000ff"/><path d="M456.75 113.84L458.27 115.36L456.75 116.88L455.23 115.36Z" fill="#0000ff"/><path d="M462.25 113.23L463.77 114.75L462.25 116.27L460.73 114.75Z" fill="#0000ff"/><path d="M467.75 112.54L469.27 114.06L467.75 115.58L466.23 114.06Z" fill="#0000ff"/><path d="M473.25 111.85L474.77 113.37L473.25 114.89L471.73 113.37Z" fill="#0000ff"/><path d="M478.75 111.15L480.27 112.67L478.75 114.19L477.23 112.67Z" fill="#0000ff"/><path d="M484.25 110.68L485.77 112.2L484.25 113.72L482.73 112.2Z" fill="#0000ff"/><path d="M489.75 110.28L491.27 111.8L489.75 113.32L488.23 111.8Z" fill="#0000ff"/><path d="M495.25 109.88L496.77 111.4L495.25 112.92L493.73 111.4Z" fill="#0000ff"/><path d="M500.75 109.49L502.27 111.01L500.75 112.53L499.23 111.01Z" fill="#0000ff"/><path d="M506.25 109.11L507.77 110.63L506.25 112.15L504.73 110.63Z" fill="#0000ff"/><path d="M511.75 108.74L513.27 110.26L511.75 111.78L510.23 110.26Z" fill="#0000ff"/><path d="M517.25 108.37L518.77 109.89L517.25 111.41L515.73 109.89Z" fill="#0000ff"/><path d="M522.75 108.04L524.27 109.56L522.75 111.08L521.23 109.56Z" fill="#0000ff"/><path d="M528.25 107.77L529.77 109.29L528.25 110.81L526.73 109.29Z" fill="#0000ff"/><path d="M533.75 107.49L535.27 109.01L533.75 110.53L532.23 109.01Z" fill="#0000ff"/><path d="M539.25 107.21L540.77 108.73L539.25 110.25L537.73 108.73Z" fill="#0000ff"/><path d="M544.75 106.95L546.27 108.47L544.75 109.99L543.23 108.47Z" fill="#0000ff"/><path d="M550.25 106.68L551.77 108.2L550.25 109.72L548.73 108.2Z" fill="#0000ff"/><path d="M555.75 106.44L557.27 107.96L555.75 109.48L554.23 107.96Z" fill="#0000ff"/><path d="M561.25 106.28L562.77 107.8L561.25 109.32L559.73 107.8Z" fill="#0000ff"/><path d="M566.75 106.12L568.27 107.64L566.75 109.16L565.23 107.64Z" fill="#0000ff"/><path d="M572.25 105.96L573.77 107.48L572.25 109L570.73 107.48Z" fill="#0000ff"/><path d="M577.75 105.82L579.27 107.34L577.75 108.86L576.23 107.34Z" fill="#0000ff"/><path d="M583.25 105.71L584.77 107.23L583.25 108.75L581.73 107.23Z" fill="#0000ff"/><path d="M588.75 105.6L590.27 107.12L588.75 108.64L587.23 107.12Z" fill="#0000ff"/><path d="M594.25 105.49L595.77 107.01L594.25 108.53L592.73 107.01Z" fill="#0000ff"/><path d="M599.75 105.43L601.27 106.95L599.75 108.47L598.23 106.95Z" fill="#0000ff"/><path d="M605.25 105.38L606.77 106.9L605.25 108.42L603.73 106.9Z" fill="#0000ff"/><path d="M610.75 105.32L612.27 106.84L610.75 108.36L609.23 106.84Z" fill="#0000ff"/><path d="M616.25 105.22L617.77 106.74L616.25 108.26L614.73 106.74Z" fill="#0000ff"/><path d="M621.75 102.88L623.27 104.4L621.75 105.92L620.23 104.4Z" fill="#0000ff"/><path d="M627.25 105.08L628.77 106.6L627.25 108.12L625.73 106.6Z" fill="#0000ff"/><path d="M632.75 104.24L634.27 105.76L632.75 107.28L631.23 105.76Z" fill="#0000ff"/><path d="M638.25 103.66L639.77 105.18L638.25 106.7L636.73 105.18Z" fill="#0000ff"/><path d="M643.75 105.68L645.27 107.2L643.75 108.72L642.23 107.2Z" fill="#0000ff"/><path d="M649.25 102.98L650.77 104.5L649.25 106.02L647.73 104.5Z" fill="#0000ff"/><path d="M654.75 103.76L656.27 105.28L654.75 106.8L653.23 105.28Z" fill="#0000ff"/><path d="M660.25 103.31L661.77 104.83L660.25 106.35L658.73 104.83Z" fill="#0000ff"/><path d="M665.75 104.58L667.27 106.1L665.75 107.62L664.23 106.1Z" fill="#0000ff"/><path d="M671.25 101.58L672.77 103.1L671.25 104.62L669.73 103.1Z" fill="#0000ff"/></g>
<rect x="396" y="160.3" width="281" height="2.7" fill="#fff"/>
<path d="M399 173.65H674" stroke="#aaa" stroke-width="1.4" stroke-dasharray="1.3 1.1"/>
<path d="M399 194.95H674" stroke="#aaa" stroke-width="1.4" stroke-dasharray="1.3 1.1"/>
<path d="M399 184.3H674" stroke="#000" stroke-width="1" stroke-dasharray="2.2 1.6"/>
<g clip-path="url(#crR)"><path d="M399 197H404.5M401.75 189V205M404.5 190.8H410M407.25 190.4V191.2M410 190.3H415.5M412.75 189.9V190.7M415.5 188H421M418.25 187.59V188.41M421 187.1H426.5M423.75 186.69V187.51M426.5 186.11H432M429.25 185.69V186.53M432 185.76H437.5M434.75 185.33V186.18M437.5 186.59H443M440.25 186.15V187.02M443 184.96H448.5M445.75 184.51V185.4M448.5 184.76H454M451.25 184.31V185.21M454 185.22H459.5M456.75 184.75V185.69M459.5 184.85H465M462.25 184.37V185.33M465 186.33H470.5M467.75 185.83V186.82M470.5 185.66H476M473.25 185.15V186.17M476 184.91H481.5M478.75 184.38V185.43M481.5 185.03H487M484.25 184.49V185.58M487 187.12H492.5M489.75 186.55V187.68M492.5 185.03H498M495.25 184.45V185.62M498 184.94H503.5M500.75 184.34V185.55M503.5 185.58H509M506.25 184.95V186.21M509 185.78H514.5M511.75 185.13V186.44M514.5 185.53H520M517.25 184.86V186.21M520 184.85H525.5M522.75 184.15V185.56M525.5 184.7H531M528.25 183.97V185.44M531 185.76H536.5M533.75 185V186.52M536.5 185.37H542M539.25 184.58V186.16M542 184.42H547.5M544.75 183.59V185.24M547.5 186.1H553M550.25 185.25V186.96M553 185.87H558.5M555.75 184.98V186.75M558.5 185.26H564M561.25 184.33V186.18M564 185.24H569.5M566.75 184.29V186.2M569.5 185.54H575M572.25 184.54V186.53M575 184.99H580.5M577.75 183.95V186.02M580.5 184.59H586M583.25 183.52V185.66M586 185.59H591.5M588.75 184.48V186.71M591.5 184.54H597M594.25 183.38V185.69M597 185.63H602.5M599.75 184.44V186.83M602.5 184.54H608M605.25 183.29V185.78M608 185.34H613.5M610.75 184.05V186.63M613.5 185.32H619M616.25 183.98V186.65M619 186.47H624.5M621.75 185.09V187.85M624.5 184.76H630M627.25 183.33V186.19M630 184.55H635.5M632.75 183.07V186.03M635.5 185.01H641M638.25 183.48V186.55M641 184.73H646.5M643.75 183.14V186.31M646.5 185.05H652M649.25 183.4V186.69M652 185.65H657.5M654.75 183.96V187.35M657.5 185.86H663M660.25 184.11V187.62M663 186.4H668.5M665.75 184.58V188.21M668.5 184.96H674M671.25 183.09V186.83" stroke="#4db84d" stroke-width="1" fill="none"/><path d="M401.75 194.81L403.94 198.86L399.56 198.86Z" fill="#009a00"/><path d="M407.25 188.62L409.44 192.66L405.06 192.66Z" fill="#009a00"/><path d="M412.75 188.12L414.94 192.16L410.56 192.16Z" fill="#009a00"/><path d="M418.25 185.81L420.44 189.86L416.06 189.86Z" fill="#009a00"/><path d="M423.75 184.91L425.94 188.96L421.56 188.96Z" fill="#009a00"/><path d="M429.25 183.93L431.44 187.97L427.06 187.97Z" fill="#009a00"/><path d="M434.75 183.57L436.94 187.61L432.56 187.61Z" fill="#009a00"/><path d="M440.25 184.4L442.44 188.45L438.06 188.45Z" fill="#009a00"/><path d="M445.75 182.77L447.94 186.81L443.56 186.81Z" fill="#009a00"/><path d="M451.25 182.58L453.44 186.62L449.06 186.62Z" fill="#009a00"/><path d="M456.75 183.03L458.94 187.08L454.56 187.08Z" fill="#009a00"/><path d="M462.25 182.66L464.44 186.7L460.06 186.7Z" fill="#009a00"/><path d="M467.75 184.14L469.94 188.18L465.56 188.18Z" fill="#009a00"/><path d="M473.25 183.47L475.44 187.51L471.06 187.51Z" fill="#009a00"/><path d="M478.75 182.72L480.94 186.76L476.56 186.76Z" fill="#009a00"/><path d="M484.25 182.85L486.44 186.89L482.06 186.89Z" fill="#009a00"/><path d="M489.75 184.93L491.94 188.97L487.56 188.97Z" fill="#009a00"/><path d="M495.25 182.85L497.44 186.89L493.06 186.89Z" fill="#009a00"/><path d="M500.75 182.76L502.94 186.8L498.56 186.8Z" fill="#009a00"/><path d="M506.25 183.4L508.44 187.44L504.06 187.44Z" fill="#009a00"/><path d="M511.75 183.6L513.93 187.64L509.56 187.64Z" fill="#009a00"/><path d="M517.25 183.35L519.43 187.39L515.07 187.39Z" fill="#009a00"/><path d="M522.75 182.67L524.93 186.71L520.57 186.71Z" fill="#009a00"/><path d="M528.25 182.52L530.43 186.56L526.07 186.56Z" fill="#009a00"/><path d="M533.75 183.57L535.93 187.61L531.57 187.61Z" fill="#009a00"/><path d="M539.25 183.18L541.43 187.22L537.07 187.22Z" fill="#009a00"/><path d="M544.75 182.23L546.93 186.27L542.57 186.27Z" fill="#009a00"/><path d="M550.25 183.92L552.43 187.96L548.07 187.96Z" fill="#009a00"/><path d="M555.75 183.68L557.93 187.72L553.57 187.72Z" fill="#009a00"/><path d="M561.25 183.07L563.43 187.11L559.07 187.11Z" fill="#009a00"/><path d="M566.75 183.06L568.93 187.1L564.57 187.1Z" fill="#009a00"/><path d="M572.25 183.35L574.43 187.4L570.07 187.4Z" fill="#009a00"/><path d="M577.75 182.8L579.93 186.85L575.57 186.85Z" fill="#009a00"/><path d="M583.25 182.41L585.43 186.45L581.07 186.45Z" fill="#009a00"/><path d="M588.75 183.41L590.93 187.45L586.57 187.45Z" fill="#009a00"/><path d="M594.25 182.35L596.43 186.39L592.07 186.39Z" fill="#009a00"/><path d="M599.75 183.45L601.93 187.49L597.57 187.49Z" fill="#009a00"/><path d="M605.25 182.35L607.43 186.39L603.07 186.39Z" fill="#009a00"/><path d="M610.75 183.16L612.93 187.2L608.57 187.2Z" fill="#009a00"/><path d="M616.25 183.13L618.43 187.18L614.07 187.18Z" fill="#009a00"/><path d="M621.75 184.28L623.93 188.33L619.57 188.33Z" fill="#009a00"/><path d="M627.25 182.58L629.43 186.62L625.07 186.62Z" fill="#009a00"/><path d="M632.75 182.37L634.93 186.41L630.57 186.41Z" fill="#009a00"/><path d="M638.25 182.83L640.43 186.87L636.07 186.87Z" fill="#009a00"/><path d="M643.75 182.54L645.93 186.58L641.57 186.58Z" fill="#009a00"/><path d="M649.25 182.86L651.43 186.9L647.07 186.9Z" fill="#009a00"/><path d="M654.75 183.47L656.93 187.51L652.57 187.51Z" fill="#009a00"/><path d="M660.25 183.68L662.43 187.72L658.07 187.72Z" fill="#009a00"/><path d="M665.75 184.21L667.93 188.25L663.57 188.25Z" fill="#009a00"/><path d="M671.25 182.77L673.43 186.82L669.07 186.82Z" fill="#009a00"/></g>
<g clip-path="url(#crR)"><path d="M399 181.5H404.5M401.75 173.5V189.5M404.5 180.7H410M407.25 180.3V181.11M410 181.47H415.5M412.75 181.06V181.87M415.5 181.5H421M418.25 181.09V181.9M421 183.29H426.5M423.75 182.88V183.7M426.5 186.01H432M429.25 185.59V186.43M432 183.55H437.5M434.75 183.12V183.97M437.5 185.85H443M440.25 185.42V186.28M443 185.83H448.5M445.75 185.39V186.28M448.5 185.73H454M451.25 185.28V186.19M454 183.92H459.5M456.75 183.45V184.38M459.5 185.23H465M462.25 184.76V185.71M465 186.67H470.5M467.75 186.17V187.16M470.5 183.71H476M473.25 183.2V184.22M476 185.52H481.5M478.75 185V186.05M481.5 185.72H487M484.25 185.17V186.26M487 184.27H492.5M489.75 183.7V184.83M492.5 185.48H498M495.25 184.89V186.06M498 184.08H503.5M500.75 183.48V184.69M503.5 184.53H509M506.25 183.9V185.16M509 184.4H514.5M511.75 183.75V185.05M514.5 185.68H520M517.25 185V186.35M520 184.86H525.5M522.75 184.16V185.57M525.5 185.7H531M528.25 184.96V186.43M531 183.94H536.5M533.75 183.18V184.7M536.5 184.9H542M539.25 184.11V185.69M542 185.97H547.5M544.75 185.15V186.8M547.5 185.23H553M550.25 184.37V186.08M553 183.93H558.5M555.75 183.04V184.81M558.5 185.75H564M561.25 184.83V186.67M564 184.58H569.5M566.75 183.62V185.54M569.5 185.15H575M572.25 184.16V186.15M575 185.53H580.5M577.75 184.5V186.57M580.5 186H586M583.25 184.93V187.08M586 185.21H591.5M588.75 184.1V186.33M591.5 183.87H597M594.25 182.71V185.02M597 184.25H602.5M599.75 183.05V185.45M602.5 185.48H608M605.25 184.24V186.72M608 184.64H613.5M610.75 183.35V185.93M613.5 186H619M616.25 184.66V187.33M619 185.18H624.5M621.75 183.79V186.56M624.5 183.83H630M627.25 182.4V185.26M630 186.25H635.5M632.75 184.76V187.73M635.5 184.36H641M638.25 182.82V185.9M641 183.58H646.5M643.75 181.99V185.17M646.5 186.3H652M649.25 184.66V187.94M652 183.86H657.5M654.75 182.16V185.56M657.5 185.33H663M660.25 183.58V187.09M663 185.72H668.5M665.75 183.91V187.53M668.5 184.7H674M671.25 182.83V186.57" stroke="#ff6464" stroke-width="1" fill="none"/><path d="M401.75 183.69L403.94 179.64L399.56 179.64Z" fill="#ff0000"/><path d="M407.25 182.89L409.44 178.85L405.06 178.85Z" fill="#ff0000"/><path d="M412.75 183.65L414.94 179.61L410.56 179.61Z" fill="#ff0000"/><path d="M418.25 183.68L420.44 179.64L416.06 179.64Z" fill="#ff0000"/><path d="M423.75 185.48L425.94 181.43L421.56 181.43Z" fill="#ff0000"/><path d="M429.25 188.19L431.44 184.15L427.06 184.15Z" fill="#ff0000"/><path d="M434.75 185.73L436.94 181.69L432.56 181.69Z" fill="#ff0000"/><path d="M440.25 188.04L442.44 183.99L438.06 183.99Z" fill="#ff0000"/><path d="M445.75 188.02L447.94 183.97L443.56 183.97Z" fill="#ff0000"/><path d="M451.25 187.92L453.44 183.88L449.06 183.88Z" fill="#ff0000"/><path d="M456.75 186.1L458.94 182.06L454.56 182.06Z" fill="#ff0000"/><path d="M462.25 187.42L464.44 183.38L460.06 183.38Z" fill="#ff0000"/><path d="M467.75 188.85L469.94 184.81L465.56 184.81Z" fill="#ff0000"/><path d="M473.25 185.9L475.44 181.85L471.06 181.85Z" fill="#ff0000"/><path d="M478.75 187.71L480.94 183.67L476.56 183.67Z" fill="#ff0000"/><path d="M484.25 187.9L486.44 183.86L482.06 183.86Z" fill="#ff0000"/><path d="M489.75 186.45L491.94 182.41L487.56 182.41Z" fill="#ff0000"/><path d="M495.25 187.66L497.44 183.62L493.06 183.62Z" fill="#ff0000"/><path d="M500.75 186.27L502.94 182.23L498.56 182.23Z" fill="#ff0000"/><path d="M506.25 186.71L508.44 182.67L504.06 182.67Z" fill="#ff0000"/><path d="M511.75 186.58L513.93 182.54L509.56 182.54Z" fill="#ff0000"/><path d="M517.25 187.86L519.43 183.82L515.07 183.82Z" fill="#ff0000"/><path d="M522.75 187.05L524.93 183L520.57 183Z" fill="#ff0000"/><path d="M528.25 187.88L530.43 183.84L526.07 183.84Z" fill="#ff0000"/><path d="M533.75 186.12L535.93 182.08L531.57 182.08Z" fill="#ff0000"/><path d="M539.25 187.09L541.43 183.04L537.07 183.04Z" fill="#ff0000"/><path d="M544.75 188.16L546.93 184.12L542.57 184.12Z" fill="#ff0000"/><path d="M550.25 187.41L552.43 183.37L548.07 183.37Z" fill="#ff0000"/><path d="M555.75 186.11L557.93 182.07L553.57 182.07Z" fill="#ff0000"/><path d="M561.25 187.93L563.43 183.89L559.07 183.89Z" fill="#ff0000"/><path d="M566.75 186.76L568.93 182.72L564.57 182.72Z" fill="#ff0000"/><path d="M572.25 187.34L574.43 183.3L570.07 183.3Z" fill="#ff0000"/><path d="M577.75 187.72L579.93 183.68L575.57 183.68Z" fill="#ff0000"/><path d="M583.25 188.19L585.43 184.15L581.07 184.15Z" fill="#ff0000"/><path d="M588.75 187.4L590.93 183.35L586.57 183.35Z" fill="#ff0000"/><path d="M594.25 186.05L596.43 182.01L592.07 182.01Z" fill="#ff0000"/><path d="M599.75 186.43L601.93 182.39L597.57 182.39Z" fill="#ff0000"/><path d="M605.25 187.67L607.43 183.62L603.07 183.62Z" fill="#ff0000"/><path d="M610.75 186.82L612.93 182.78L608.57 182.78Z" fill="#ff0000"/><path d="M616.25 188.18L618.43 184.14L614.07 184.14Z" fill="#ff0000"/><path d="M621.75 187.36L623.93 183.32L619.57 183.32Z" fill="#ff0000"/><path d="M627.25 186.02L629.43 181.97L625.07 181.97Z" fill="#ff0000"/><path d="M632.75 188.43L634.93 184.39L630.57 184.39Z" fill="#ff0000"/><path d="M638.25 186.54L640.43 182.5L636.07 182.5Z" fill="#ff0000"/><path d="M643.75 185.76L645.93 181.72L641.57 181.72Z" fill="#ff0000"/><path d="M649.25 188.48L651.43 184.44L647.07 184.44Z" fill="#ff0000"/><path d="M654.75 186.04L656.93 182L652.57 182Z" fill="#ff0000"/><path d="M660.25 187.52L662.43 183.48L658.07 183.48Z" fill="#ff0000"/><path d="M665.75 187.9L667.93 183.86L663.57 183.86Z" fill="#ff0000"/><path d="M671.25 186.88L673.43 182.84L669.07 182.84Z" fill="#ff0000"/></g>
<g clip-path="url(#crR)"><path d="M399 196H404.5M401.75 188V204M404.5 189.9H410M407.25 189.5V190.3M410 189H415.5M412.75 188.6V189.4M415.5 188H421M418.25 187.59V188.41M421 187H426.5M423.75 186.59V187.41M426.5 187.09H432M429.25 186.67V187.5M432 185.87H437.5M434.75 185.44V186.29M437.5 185.2H443M440.25 184.77V185.64M443 185.72H448.5M445.75 185.28V186.17M448.5 186.04H454M451.25 185.59V186.5M454 186.35H459.5M456.75 185.88V186.81M459.5 186.02H465M462.25 185.54V186.5M465 184.41H470.5M467.75 183.91V184.9M470.5 185.63H476M473.25 185.12V186.14M476 186.21H481.5M478.75 185.68V186.74M481.5 185.34H487M484.25 184.79V185.88M487 184.99H492.5M489.75 184.42V185.55M492.5 185.48H498M495.25 184.89V186.06M498 184.99H503.5M500.75 184.38V185.59M503.5 185.67H509M506.25 185.04V186.3M509 185.28H514.5M511.75 184.62V185.93M514.5 186.12H520M517.25 185.44V186.79M520 185.58H525.5M522.75 184.87V186.28M525.5 184.84H531M528.25 184.11V185.57M531 185.64H536.5M533.75 184.88V186.4M536.5 185.83H542M539.25 185.04V186.62M542 184.93H547.5M544.75 184.1V185.75M547.5 185.01H553M550.25 184.16V185.86M553 183.88H558.5M555.75 182.99V184.77M558.5 185.8H564M561.25 184.88V186.72M564 184.9H569.5M566.75 183.94V185.86M569.5 183.98H575M572.25 182.98V184.97M575 184.19H580.5M577.75 183.15V185.22M580.5 185.11H586M583.25 184.04V186.19M586 185.7H591.5M588.75 184.59V186.81M591.5 185.19H597M594.25 184.03V186.34M597 185.52H602.5M599.75 184.32V186.72M602.5 184.57H608M605.25 183.33V185.82M608 184.43H613.5M610.75 183.14V185.72M613.5 185.76H619M616.25 184.43V187.1M619 185.52H624.5M621.75 184.14V186.91M624.5 185.21H630M627.25 183.77V186.64M630 185.99H635.5M632.75 184.51V187.47M635.5 184.65H641M638.25 183.11V186.18M641 184.96H646.5M643.75 183.38V186.55M646.5 185.83H652M649.25 184.19V187.47M652 186.31H657.5M654.75 184.62V188.01M657.5 185.21H663M660.25 183.46V186.97M663 186.21H668.5M665.75 184.4V188.02M668.5 184.84H674M671.25 182.97V186.71" stroke="#606060" stroke-width="1" fill="none"/><circle cx="401.75" cy="196" r="1.8" fill="#000000"/><circle cx="407.25" cy="189.9" r="1.8" fill="#000000"/><circle cx="412.75" cy="189" r="1.8" fill="#000000"/><circle cx="418.25" cy="188" r="1.8" fill="#000000"/><circle cx="423.75" cy="187" r="1.8" fill="#000000"/><circle cx="429.25" cy="187.09" r="1.8" fill="#000000"/><circle cx="434.75" cy="185.87" r="1.8" fill="#000000"/><circle cx="440.25" cy="185.2" r="1.8" fill="#000000"/><circle cx="445.75" cy="185.72" r="1.8" fill="#000000"/><circle cx="451.25" cy="186.04" r="1.8" fill="#000000"/><circle cx="456.75" cy="186.35" r="1.8" fill="#000000"/><circle cx="462.25" cy="186.02" r="1.8" fill="#000000"/><circle cx="467.75" cy="184.41" r="1.8" fill="#000000"/><circle cx="473.25" cy="185.63" r="1.8" fill="#000000"/><circle cx="478.75" cy="186.21" r="1.8" fill="#000000"/><circle cx="484.25" cy="185.34" r="1.8" fill="#000000"/><circle cx="489.75" cy="184.99" r="1.8" fill="#000000"/><circle cx="495.25" cy="185.48" r="1.8" fill="#000000"/><circle cx="500.75" cy="184.99" r="1.8" fill="#000000"/><circle cx="506.25" cy="185.67" r="1.8" fill="#000000"/><circle cx="511.75" cy="185.28" r="1.8" fill="#000000"/><circle cx="517.25" cy="186.12" r="1.8" fill="#000000"/><circle cx="522.75" cy="185.58" r="1.8" fill="#000000"/><circle cx="528.25" cy="184.84" r="1.8" fill="#000000"/><circle cx="533.75" cy="185.64" r="1.8" fill="#000000"/><circle cx="539.25" cy="185.83" r="1.8" fill="#000000"/><circle cx="544.75" cy="184.93" r="1.8" fill="#000000"/><circle cx="550.25" cy="185.01" r="1.8" fill="#000000"/><circle cx="555.75" cy="183.88" r="1.8" fill="#000000"/><circle cx="561.25" cy="185.8" r="1.8" fill="#000000"/><circle cx="566.75" cy="184.9" r="1.8" fill="#000000"/><circle cx="572.25" cy="183.98" r="1.8" fill="#000000"/><circle cx="577.75" cy="184.19" r="1.8" fill="#000000"/><circle cx="583.25" cy="185.11" r="1.8" fill="#000000"/><circle cx="588.75" cy="185.7" r="1.8" fill="#000000"/><circle cx="594.25" cy="185.19" r="1.8" fill="#000000"/><circle cx="599.75" cy="185.52" r="1.8" fill="#000000"/><circle cx="605.25" cy="184.57" r="1.8" fill="#000000"/><circle cx="610.75" cy="184.43" r="1.8" fill="#000000"/><circle cx="616.25" cy="185.76" r="1.8" fill="#000000"/><circle cx="621.75" cy="185.52" r="1.8" fill="#000000"/><circle cx="627.25" cy="185.21" r="1.8" fill="#000000"/><circle cx="632.75" cy="185.99" r="1.8" fill="#000000"/><circle cx="638.25" cy="184.65" r="1.8" fill="#000000"/><circle cx="643.75" cy="184.96" r="1.8" fill="#000000"/><circle cx="649.25" cy="185.83" r="1.8" fill="#000000"/><circle cx="654.75" cy="186.31" r="1.8" fill="#000000"/><circle cx="660.25" cy="185.21" r="1.8" fill="#000000"/><circle cx="665.75" cy="186.21" r="1.8" fill="#000000"/><circle cx="671.25" cy="184.84" r="1.8" fill="#000000"/></g>
<g clip-path="url(#crR)"><path d="M399 170.4H404.5M401.75 161.4V179.4M404.5 180H410M407.25 179.6V180.4M410 181.5H415.5M412.75 181.1V181.9M415.5 181.5H421M418.25 181.09V181.91M421 183H426.5M423.75 182.59V183.41M426.5 185.37H432M429.25 184.95V185.79M432 183.05H437.5M434.75 182.63V183.48M437.5 185.21H443M440.25 184.77V185.64M443 185.57H448.5M445.75 185.12V186.01M448.5 185.38H454M451.25 184.93V185.84M454 183.86H459.5M456.75 183.39V184.32M459.5 184.93H465M462.25 184.45V185.41M465 186.09H470.5M467.75 185.59V186.58M470.5 183.4H476M473.25 182.89V183.91M476 184.98H481.5M478.75 184.45V185.51M481.5 185.49H487M484.25 184.95V186.03M487 184.04H492.5M489.75 183.48V184.61M492.5 185.07H498M495.25 184.48V185.65M498 183.74H503.5M500.75 183.14V184.35M503.5 183.95H509M506.25 183.32V184.58M509 183.95H514.5M511.75 183.29V184.6M514.5 184.75H520M517.25 184.08V185.43M520 184.53H525.5M522.75 183.82V185.23M525.5 185.36H531M528.25 184.63V186.09M531 183.85H536.5M533.75 183.09V184.61M536.5 184.49H542M539.25 183.7V185.29M542 185.37H547.5M544.75 184.55V186.19M547.5 185.05H553M550.25 184.19V185.9M553 183.54H558.5M555.75 182.65V184.43M558.5 185.13H564M561.25 184.21V186.05M564 184.22H569.5M566.75 183.26V185.18M569.5 184.91H575M572.25 183.91V185.9M575 184.84H580.5M577.75 183.81V185.87M580.5 185.58H586M583.25 184.5V186.65M586 184.69H591.5M588.75 183.58V185.81M591.5 183.12H597M594.25 181.96V184.27M597 183.5H602.5M599.75 182.3V184.7M602.5 185.18H608M605.25 183.94V186.43M608 184.39H613.5M610.75 183.1V185.68M613.5 185.51H619M616.25 184.17V186.85M619 184.82H624.5M621.75 183.43V186.2M624.5 184H630M627.25 182.57V185.43M630 185.47H635.5M632.75 183.98V186.95M635.5 183.95H641M638.25 182.42V185.49M641 182.96H646.5M643.75 181.37V184.55M646.5 186.25H652M649.25 184.61V187.89M652 183.07H657.5M654.75 181.37V184.77M657.5 185.11H663M660.25 183.36V186.86M663 185.35H668.5M665.75 183.54V187.16M668.5 184.72H674M671.25 182.85V186.59" stroke="#50ffff" stroke-width="1" fill="none"/><rect x="399.85" y="168.5" width="3.8" height="3.8" fill="#00ffff"/><rect x="405.35" y="178.1" width="3.8" height="3.8" fill="#00ffff"/><rect x="410.85" y="179.6" width="3.8" height="3.8" fill="#00ffff"/><rect x="416.35" y="179.6" width="3.8" height="3.8" fill="#00ffff"/><rect x="421.85" y="181.1" width="3.8" height="3.8" fill="#00ffff"/><rect x="427.35" y="183.47" width="3.8" height="3.8" fill="#00ffff"/><rect x="432.85" y="181.15" width="3.8" height="3.8" fill="#00ffff"/><rect x="438.35" y="183.31" width="3.8" height="3.8" fill="#00ffff"/><rect x="443.85" y="183.67" width="3.8" height="3.8" fill="#00ffff"/><rect x="449.35" y="183.48" width="3.8" height="3.8" fill="#00ffff"/><rect x="454.85" y="181.96" width="3.8" height="3.8" fill="#00ffff"/><rect x="460.35" y="183.03" width="3.8" height="3.8" fill="#00ffff"/><rect x="465.85" y="184.19" width="3.8" height="3.8" fill="#00ffff"/><rect x="471.35" y="181.5" width="3.8" height="3.8" fill="#00ffff"/><rect x="476.85" y="183.08" width="3.8" height="3.8" fill="#00ffff"/><rect x="482.35" y="183.59" width="3.8" height="3.8" fill="#00ffff"/><rect x="487.85" y="182.14" width="3.8" height="3.8" fill="#00ffff"/><rect x="493.35" y="183.17" width="3.8" height="3.8" fill="#00ffff"/><rect x="498.85" y="181.84" width="3.8" height="3.8" fill="#00ffff"/><rect x="504.35" y="182.05" width="3.8" height="3.8" fill="#00ffff"/><rect x="509.85" y="182.05" width="3.8" height="3.8" fill="#00ffff"/><rect x="515.35" y="182.85" width="3.8" height="3.8" fill="#00ffff"/><rect x="520.85" y="182.63" width="3.8" height="3.8" fill="#00ffff"/><rect x="526.35" y="183.46" width="3.8" height="3.8" fill="#00ffff"/><rect x="531.85" y="181.95" width="3.8" height="3.8" fill="#00ffff"/><rect x="537.35" y="182.59" width="3.8" height="3.8" fill="#00ffff"/><rect x="542.85" y="183.47" width="3.8" height="3.8" fill="#00ffff"/><rect x="548.35" y="183.15" width="3.8" height="3.8" fill="#00ffff"/><rect x="553.85" y="181.64" width="3.8" height="3.8" fill="#00ffff"/><rect x="559.35" y="183.23" width="3.8" height="3.8" fill="#00ffff"/><rect x="564.85" y="182.32" width="3.8" height="3.8" fill="#00ffff"/><rect x="570.35" y="183.01" width="3.8" height="3.8" fill="#00ffff"/><rect x="575.85" y="182.94" width="3.8" height="3.8" fill="#00ffff"/><rect x="581.35" y="183.68" width="3.8" height="3.8" fill="#00ffff"/><rect x="586.85" y="182.79" width="3.8" height="3.8" fill="#00ffff"/><rect x="592.35" y="181.22" width="3.8" height="3.8" fill="#00ffff"/><rect x="597.85" y="181.6" width="3.8" height="3.8" fill="#00ffff"/><rect x="603.35" y="183.28" width="3.8" height="3.8" fill="#00ffff"/><rect x="608.85" y="182.49" width="3.8" height="3.8" fill="#00ffff"/><rect x="614.35" y="183.61" width="3.8" height="3.8" fill="#00ffff"/><rect x="619.85" y="182.92" width="3.8" height="3.8" fill="#00ffff"/><rect x="625.35" y="182.1" width="3.8" height="3.8" fill="#00ffff"/><rect x="630.85" y="183.57" width="3.8" height="3.8" fill="#00ffff"/><rect x="636.35" y="182.05" width="3.8" height="3.8" fill="#00ffff"/><rect x="641.85" y="181.06" width="3.8" height="3.8" fill="#00ffff"/><rect x="647.35" y="184.35" width="3.8" height="3.8" fill="#00ffff"/><rect x="652.85" y="181.17" width="3.8" height="3.8" fill="#00ffff"/><rect x="658.35" y="183.21" width="3.8" height="3.8" fill="#00ffff"/><rect x="663.85" y="183.45" width="3.8" height="3.8" fill="#00ffff"/><rect x="669.35" y="182.82" width="3.8" height="3.8" fill="#00ffff"/></g>
<g clip-path="url(#crR)"><path d="M399 195.5H404.5M401.75 189.5V201.5M404.5 194.5H410M407.25 194.1V194.9M410 193.6H415.5M412.75 193.2V194M415.5 192.1H421M418.25 191.7V192.5M421 190.8H426.5M423.75 190.4V191.2M426.5 190.3H432M429.25 189.9V190.7M432 189.5H437.5M434.75 189.1V189.9M437.5 189H443M440.25 188.59V189.41M443 188.26H448.5M445.75 187.85V188.67M448.5 187.06H454M451.25 186.64V187.47M454 188.61H459.5M456.75 188.19V189.03M459.5 188.92H465M462.25 188.49V189.34M465 186.98H470.5M467.75 186.55V187.41M470.5 187.69H476M473.25 187.25V188.13M476 186.49H481.5M478.75 186.04V186.94M481.5 186.22H487M484.25 185.76V186.68M487 187.19H492.5M489.75 186.72V187.66M492.5 187.66H498M495.25 187.17V188.14M498 186.28H503.5M500.75 185.78V186.79M503.5 184.24H509M506.25 183.72V184.75M509 187.53H514.5M511.75 186.99V188.06M514.5 184.84H520M517.25 184.28V185.4M520 186.83H525.5M522.75 186.25V187.41M525.5 188.75H531M528.25 188.14V189.36M531 186.53H536.5M533.75 185.89V187.16M536.5 185.05H542M539.25 184.39V185.72M542 184.66H547.5M544.75 183.96V185.36M547.5 187.75H553M550.25 187.01V188.48M553 186.25H558.5M555.75 185.48V187.02M558.5 186.85H564M561.25 186.04V187.66M564 187.25H569.5M566.75 186.39V188.1M569.5 189.9H575M572.25 189V190.8M575 185.63H580.5M577.75 184.68V186.58M580.5 184.81H586M583.25 183.8V185.81M586 182.19H591.5M588.75 181.13V183.24M591.5 184.01H597M594.25 182.89V185.12M597 183H602.5M599.75 181.82V184.18M602.5 185.5H608M605.25 184.26V186.75M608 186.14H613.5M610.75 184.83V187.45M613.5 185.45H619M616.25 184.06V186.83M619 182.4H624.5M621.75 180.94V183.86M624.5 186.43H630M627.25 184.89V187.97M630 188H635.5M632.75 186.37V189.63M635.5 185.03H641M638.25 183.31V186.74M641 183.39H646.5M643.75 181.58V185.2M646.5 178H652M649.25 175.2V180.8M652 185.25H657.5M654.75 182.45V188.05M657.5 179.3H663M660.25 176.5V182.1M663 186.94H668.5M665.75 184.14V189.74M668.5 178.6H674M671.25 175.8V181.4" stroke="#6c6cff" stroke-width="1" fill="none"/><path d="M401.75 193.98L403.27 195.5L401.75 197.02L400.23 195.5Z" fill="#0000ff"/><path d="M407.25 192.98L408.77 194.5L407.25 196.02L405.73 194.5Z" fill="#0000ff"/><path d="M412.75 192.08L414.27 193.6L412.75 195.12L411.23 193.6Z" fill="#0000ff"/><path d="M418.25 190.58L419.77 192.1L418.25 193.62L416.73 192.1Z" fill="#0000ff"/><path d="M423.75 189.28L425.27 190.8L423.75 192.32L422.23 190.8Z" fill="#0000ff"/><path d="M429.25 188.78L430.77 190.3L429.25 191.82L427.73 190.3Z" fill="#0000ff"/><path d="M434.75 187.98L436.27 189.5L434.75 191.02L433.23 189.5Z" fill="#0000ff"/><path d="M440.25 187.48L441.77 189L440.25 190.52L438.73 189Z" fill="#0000ff"/><path d="M445.75 186.74L447.27 188.26L445.75 189.78L444.23 188.26Z" fill="#0000ff"/><path d="M451.25 185.54L452.77 187.06L451.25 188.58L449.73 187.06Z" fill="#0000ff"/><path d="M456.75 187.09L458.27 188.61L456.75 190.13L455.23 188.61Z" fill="#0000ff"/><path d="M462.25 187.4L463.77 188.92L462.25 190.44L460.73 188.92Z" fill="#0000ff"/><path d="M467.75 185.46L469.27 186.98L467.75 188.5L466.23 186.98Z" fill="#0000ff"/><path d="M473.25 186.17L474.77 187.69L473.25 189.21L471.73 187.69Z" fill="#0000ff"/><path d="M478.75 184.97L480.27 186.49L478.75 188.01L477.23 186.49Z" fill="#0000ff"/><path d="M484.25 184.7L485.77 186.22L484.25 187.74L482.73 186.22Z" fill="#0000ff"/><path d="M489.75 185.67L491.27 187.19L489.75 188.71L488.23 187.19Z" fill="#0000ff"/><path d="M495.25 186.14L496.77 187.66L495.25 189.18L493.73 187.66Z" fill="#0000ff"/><path d="M500.75 184.76L502.27 186.28L500.75 187.8L499.23 186.28Z" fill="#0000ff"/><path d="M506.25 182.72L507.77 184.24L506.25 185.76L504.73 184.24Z" fill="#0000ff"/><path d="M511.75 186.01L513.27 187.53L511.75 189.05L510.23 187.53Z" fill="#0000ff"/><path d="M517.25 183.32L518.77 184.84L517.25 186.36L515.73 184.84Z" fill="#0000ff"/><path d="M522.75 185.31L524.27 186.83L522.75 188.35L521.23 186.83Z" fill="#0000ff"/><path d="M528.25 187.23L529.77 188.75L528.25 190.27L526.73 188.75Z" fill="#0000ff"/><path d="M533.75 185.01L535.27 186.53L533.75 188.05L532.23 186.53Z" fill="#0000ff"/><path d="M539.25 183.53L540.77 185.05L539.25 186.57L537.73 185.05Z" fill="#0000ff"/><path d="M544.75 183.14L546.27 184.66L544.75 186.18L543.23 184.66Z" fill="#0000ff"/><path d="M550.25 186.23L551.77 187.75L550.25 189.27L548.73 187.75Z" fill="#0000ff"/><path d="M555.75 184.73L557.27 186.25L555.75 187.77L554.23 186.25Z" fill="#0000ff"/><path d="M561.25 185.33L562.77 186.85L561.25 188.37L559.73 186.85Z" fill="#0000ff"/><path d="M566.75 185.73L568.27 187.25L566.75 188.77L565.23 187.25Z" fill="#0000ff"/><path d="M572.25 188.38L573.77 189.9L572.25 191.42L570.73 189.9Z" fill="#0000ff"/><path d="M577.75 184.11L579.27 185.63L577.75 187.15L576.23 185.63Z" fill="#0000ff"/><path d="M583.25 183.29L584.77 184.81L583.25 186.33L581.73 184.81Z" fill="#0000ff"/><path d="M588.75 180.67L590.27 182.19L588.75 183.71L587.23 182.19Z" fill="#0000ff"/><path d="M594.25 182.49L595.77 184.01L594.25 185.53L592.73 184.01Z" fill="#0000ff"/><path d="M599.75 181.48L601.27 183L599.75 184.52L598.23 183Z" fill="#0000ff"/><path d="M605.25 183.98L606.77 185.5L605.25 187.02L603.73 185.5Z" fill="#0000ff"/><path d="M610.75 184.62L612.27 186.14L610.75 187.66L609.23 186.14Z" fill="#0000ff"/><path d="M616.25 183.93L617.77 185.45L616.25 186.97L614.73 185.45Z" fill="#0000ff"/><path d="M621.75 180.88L623.27 182.4L621.75 183.92L620.23 182.4Z" fill="#0000ff"/><path d="M627.25 184.91L628.77 186.43L627.25 187.95L625.73 186.43Z" fill="#0000ff"/><path d="M632.75 186.48L634.27 188L632.75 189.52L631.23 188Z" fill="#0000ff"/><path d="M638.25 183.51L639.77 185.03L638.25 186.55L636.73 185.03Z" fill="#0000ff"/><path d="M643.75 181.87L645.27 183.39L643.75 184.91L642.23 183.39Z" fill="#0000ff"/><path d="M649.25 176.48L650.77 178L649.25 179.52L647.73 178Z" fill="#0000ff"/><path d="M654.75 183.73L656.27 185.25L654.75 186.77L653.23 185.25Z" fill="#0000ff"/><path d="M660.25 177.78L661.77 179.3L660.25 180.82L658.73 179.3Z" fill="#0000ff"/><path d="M665.75 185.42L667.27 186.94L665.75 188.46L664.23 186.94Z" fill="#0000ff"/><path d="M671.25 177.08L672.77 178.6L671.25 180.12L669.73 178.6Z" fill="#0000ff"/></g>
<g stroke="#000" stroke-width="1" fill="none">
<rect x="399" y="163" width="275" height="42.5" stroke-width="1"/>
<path d="M399 163H674" stroke-width="1.6"/>
<path d="M399 205.6H404.5M399 203.47H401.6M399 201.34H401.6M399 199.21H401.6M399 197.08H401.6M399 194.95H404.5M399 192.82H401.6M399 190.69H401.6M399 188.56H401.6M399 186.43H401.6M399 184.3H404.5M399 182.17H401.6M399 180.04H401.6M399 177.91H401.6M399 175.78H401.6M399 173.65H404.5M399 171.52H401.6M399 169.39H401.6M399 167.26H401.6M399 165.13H401.6M399 163H404.5"/>
<path d="M674 205.6H668.5M674 203.47H671.4M674 201.34H671.4M674 199.21H671.4M674 197.08H671.4M674 194.95H668.5M674 192.82H671.4M674 190.69H671.4M674 188.56H671.4M674 186.43H671.4M674 184.3H668.5M674 182.17H671.4M674 180.04H671.4M674 177.91H671.4M674 175.78H671.4M674 173.65H668.5M674 171.52H671.4M674 169.39H671.4M674 167.26H671.4M674 165.13H671.4M674 163H668.5"/>
<path d="M399 163V171M405.88 163V167.2M412.75 163V167.2M419.62 163V167.2M426.5 163V171M433.38 163V167.2M440.25 163V167.2M447.12 163V167.2M454 163V171M460.88 163V167.2M467.75 163V167.2M474.62 163V167.2M481.5 163V171M488.38 163V167.2M495.25 163V167.2M502.12 163V167.2M509 163V171M515.88 163V167.2M522.75 163V167.2M529.62 163V167.2M536.5 163V171M543.38 163V167.2M550.25 163V167.2M557.12 163V167.2M564 163V171M570.88 163V167.2M577.75 163V167.2M584.62 163V167.2M591.5 163V171M598.38 163V167.2M605.25 163V167.2M612.12 163V167.2M619 163V171M625.88 163V167.2M632.75 163V167.2M639.62 163V167.2M646.5 163V171M653.38 163V167.2M660.25 163V167.2M667.12 163V167.2M674 163V171"/>
<path d="M399 205.5V197.5M405.88 205.5V201.3M412.75 205.5V201.3M419.62 205.5V201.3M426.5 205.5V197.5M433.38 205.5V201.3M440.25 205.5V201.3M447.12 205.5V201.3M454 205.5V197.5M460.88 205.5V201.3M467.75 205.5V201.3M474.62 205.5V201.3M481.5 205.5V197.5M488.38 205.5V201.3M495.25 205.5V201.3M502.12 205.5V201.3M509 205.5V197.5M515.88 205.5V201.3M522.75 205.5V201.3M529.62 205.5V201.3M536.5 205.5V197.5M543.38 205.5V201.3M550.25 205.5V201.3M557.12 205.5V201.3M564 205.5V197.5M570.88 205.5V201.3M577.75 205.5V201.3M584.62 205.5V201.3M591.5 205.5V197.5M598.38 205.5V201.3M605.25 205.5V201.3M612.12 205.5V201.3M619 205.5V197.5M625.88 205.5V201.3M632.75 205.5V201.3M639.62 205.5V201.3M646.5 205.5V197.5M653.38 205.5V201.3M660.25 205.5V201.3M667.12 205.5V201.3M674 205.5V197.5"/>
</g>
<g font-family="Liberation Sans, sans-serif" font-size="11.6" fill="#000" text-anchor="end">
<text x="397.8" y="10.54">1.4</text>
<text x="397.8" y="33.02">1.2</text>
<text x="397.8" y="55.5">1</text>
<text x="397.8" y="77.98">0.8</text>
<text x="397.8" y="100.46">0.6</text>
<text x="397.8" y="122.94">0.4</text>
<text x="397.8" y="145.42">0.2</text>
<text x="397.8" y="178.05">1.1</text>
<text x="397.8" y="188.7">1</text>
<text x="397.8" y="199.35">0.9</text>
</g>
<g font-family="Liberation Sans, sans-serif" font-size="12" fill="#000" text-anchor="middle">
<text x="399" y="216">0</text>
<text x="426.5" y="216">20</text>
<text x="454" y="216">40</text>
<text x="481.5" y="216">60</text>
<text x="509" y="216">80</text>
<text x="536.5" y="216">100</text>
<text x="564" y="216">120</text>
<text x="591.5" y="216">140</text>
<text x="619" y="216">160</text>
<text x="646.5" y="216">180</text>
<text x="674" y="216">200</text>
</g>
<g font-family="Liberation Sans, sans-serif" fill="#000">
<text font-size="11.8" text-anchor="end" x="674.5" y="232.6">[GeV]</text>
<text font-size="12" x="629.6" y="231.9">p</text>
<text font-size="8.2" x="637" y="228.0">Z</text>
<text font-size="8.2" x="637" y="236.8">T</text>
</g>
<text font-family="Liberation Serif, serif" font-weight="bold" font-size="15" x="527.3" y="238">(b)</text>
<g fill="#000" font-family="Liberation Sans, sans-serif"><path d="M354.9 89.55L359.8 91.99L364.9 89.55" stroke="#222" stroke-width="0.9" fill="none"/><text font-size="11" font-family="Liberation Serif, serif" font-weight="bold" letter-spacing="0.62" transform="translate(363 85.48) rotate(-90)">Recoil</text><circle cx="360" cy="50.72" r="0.65"/><text font-size="11.5" font-family="Liberation Serif, serif" font-weight="bold" transform="translate(362.8 45.84) rotate(-90)">Λ</text><path d="M355.2 44.62L353 41.78L355.2 38.93" stroke="#222" stroke-width="0.9" fill="none"/><text font-size="7.5"  transform="translate(368.4 38.32) rotate(-90)">Z</text><text font-size="11.5"  transform="translate(363.1 31) rotate(-90)">/</text><text font-size="10.5"  transform="translate(362.7 23.78) rotate(-90)">p</text><text font-size="7.5"  transform="translate(358.3 17.18) rotate(-90)">Z</text><text font-size="7.5"  transform="translate(369.2 17.18) rotate(-90)">T</text><path d="M354.8 9.66L359.7 6.71L365.1 9.66" stroke="#222" stroke-width="0.9" fill="none"/></g>
<text font-family="Liberation Sans, sans-serif" font-size="11.8" fill="#000" transform="translate(365 215.1) rotate(-90)">Data / MC</text>
<text font-family="Liberation Sans, sans-serif" font-size="12.3" font-weight="bold" font-style="italic" x="416.6" y="22.5">ATLAS</text>
<path d="M416.2 34.9L417.2 34.2L418.2 38.1L419.5 30.6H425.6" stroke="#000" stroke-width="0.95" fill="none" stroke-linejoin="round"/>
<text font-family="Liberation Sans, sans-serif" font-size="9.3" x="420.6" y="37.8">s = 8 TeV, 20.3 fb<tspan font-size="6.3" dy="-3.6">-1</tspan></text>
<text font-family="Liberation Sans, sans-serif" font-size="9.15" x="416.25" y="50">Data 2012, Z</text>
<path d="M469.5 47.4H475.9" stroke="#000" stroke-width="1.0"/>
<path d="M474.3 45.6L477.2 47.4L474.3 49.2Z" fill="#000"/>
<text font-family="Liberation Serif, serif" font-size="10.3" x="477.3" y="50" letter-spacing="0.35">μμ</text>
<text font-family="Liberation Sans, sans-serif" font-size="9.15" x="491.4" y="50">Inclusive</text>
<path d="M551.1 117.5H558.7" stroke="#606060" stroke-width="1"/>
<circle cx="554.9" cy="117.5" r="1.61" fill="#000000"/>
<text font-family="Liberation Sans, sans-serif" font-size="8.5" font-weight="bold" x="560.5" y="120.56">CST</text>
<path d="M594.8 117.5H602.4" stroke="#4db84d" stroke-width="1"/>
<path d="M598.6 115.55L600.56 119.16L596.64 119.16Z" fill="#009a00"/>
<text font-family="Liberation Sans, sans-serif" font-size="8.5" font-weight="bold" x="604.5" y="120.56">TST</text>
<path d="M551.1 132.8H558.7" stroke="#ff6464" stroke-width="1"/>
<path d="M554.9 134.76L556.86 131.14L552.94 131.14Z" fill="#ff0000"/>
<text font-family="Liberation Sans, sans-serif" font-size="8.5" font-weight="bold" x="560.5" y="135.86">STVF</text>
<path d="M594.8 132.8H602.4" stroke="#50ffff" stroke-width="1"/>
<rect x="596.9" y="131.1" width="3.4" height="3.4" fill="#00ffff"/>
<text font-family="Liberation Sans, sans-serif" font-size="8.5" font-weight="bold" x="604.5" y="135.86">EJAF</text>
<path d="M551.1 147.7H558.7" stroke="#6c6cff" stroke-width="1"/>
<path d="M554.9 146.34L556.26 147.7L554.9 149.06L553.54 147.7Z" fill="#0000ff"/>
<text font-family="Liberation Sans, sans-serif" font-size="8.5" font-weight="bold" x="560.5" y="150.76">Track</text>
</svg>
</body></html>
